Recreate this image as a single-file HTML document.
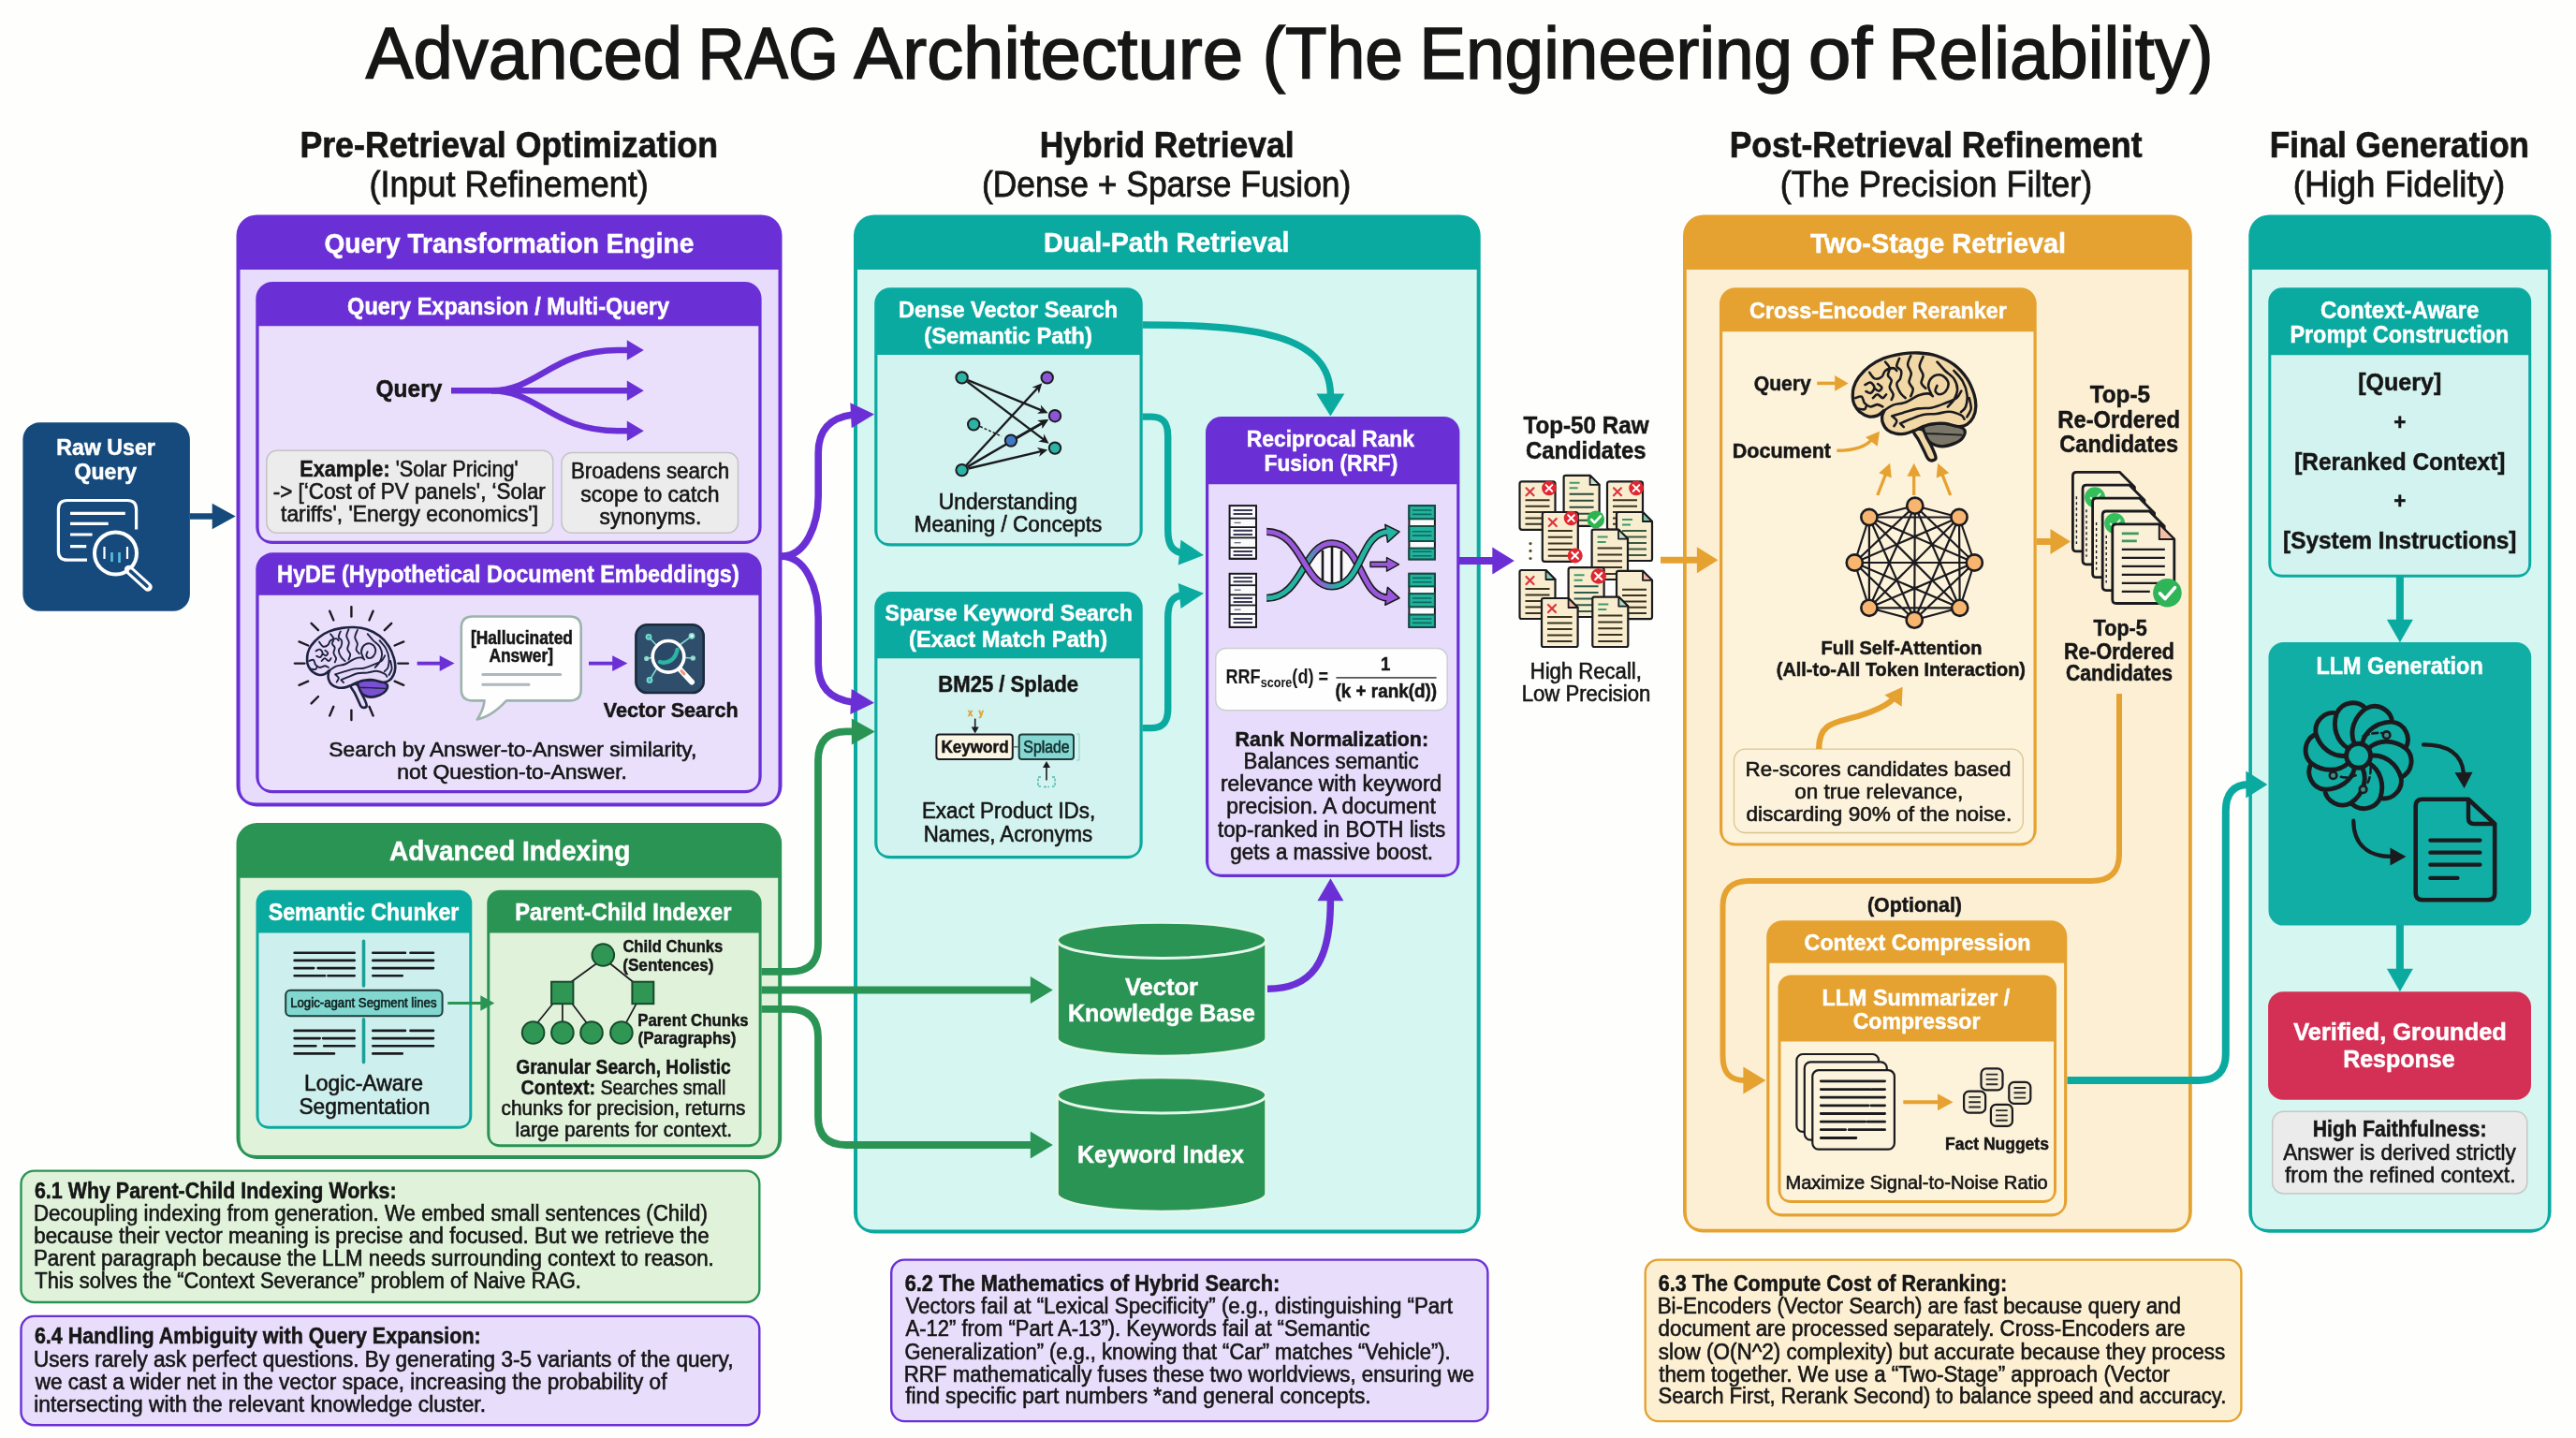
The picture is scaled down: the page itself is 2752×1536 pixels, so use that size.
<!DOCTYPE html>
<html><head><meta charset="utf-8"><title>Advanced RAG Architecture</title>
<style>
html,body{margin:0;padding:0;background:#fefefd;}
svg{display:block;will-change:transform;font-family:"Liberation Sans",sans-serif;}
</style></head><body>
<svg width="2752" height="1536" viewBox="0 0 2752 1536">
<rect width="2752" height="1536" fill="#fefefd"/>
<rect x="24.4" y="451.3" width="178.5" height="201.49999999999994" rx="18" fill="#164a7c"/>
<rect x="252.5" y="229.4" width="583.0" height="632.1" rx="22" fill="#6a30d6"/>
<path d="M256.5 288.1 H831.5 V839.5 Q831.5 857.5 813.5 857.5 H274.5 Q256.5 857.5 256.5 839.5 Z" fill="#e7dcfb"/>
<rect x="273.3" y="301" width="540.3" height="280" rx="18" fill="#6a30d6"/>
<path d="M276.6 348.3 H810.3000000000001 V563.0 Q810.3000000000001 577.7 795.6 577.7 H291.3 Q276.6 577.7 276.6 563.0 Z" fill="#eae0fc"/>
<rect x="284.8" y="481.3" width="305.90000000000003" height="87.99999999999994" rx="11" fill="#ececec" stroke="#c4c4c4" stroke-width="1.5"/>
<rect x="600" y="483.5" width="188.5" height="85.79999999999995" rx="11" fill="#ececec" stroke="#c4c4c4" stroke-width="1.5"/>
<rect x="273.3" y="590.3" width="540.4000000000001" height="257.0" rx="18" fill="#6a30d6"/>
<path d="M276.6 635.7 H810.4000000000001 V829.3 Q810.4000000000001 844.0 795.7 844.0 H291.3 Q276.6 844.0 276.6 829.3 Z" fill="#eae0fc"/>
<rect x="252.5" y="879" width="582.7" height="359" rx="22" fill="#2a9454"/>
<path d="M256.5 937.8 H831.2 V1216 Q831.2 1234 813.2 1234 H274.5 Q256.5 1234 256.5 1216 Z" fill="#e1f2db"/>
<rect x="273.5" y="950.7" width="230.8" height="255.0999999999999" rx="14" fill="#0aaaa0"/>
<path d="M276.5 996.6 H501.3 V1191.8 Q501.3 1202.8 490.3 1202.8 H287.5 Q276.5 1202.8 276.5 1191.8 Z" fill="#cdf0ee"/>
<rect x="520.3" y="950.7" width="293.30000000000007" height="274.5999999999999" rx="14" fill="#2a9454"/>
<path d="M523.3 996.6 H810.6 V1211.3 Q810.6 1222.3 799.6 1222.3 H534.3 Q523.3 1222.3 523.3 1211.3 Z" fill="#e1f2db"/>
<rect x="912" y="229.4" width="669.7" height="1088.0" rx="22" fill="#0aaaa0"/>
<path d="M916 288.1 H1577.7 V1295.4 Q1577.7 1313.4 1559.7 1313.4 H934 Q916 1313.4 916 1295.4 Z" fill="#d6f6f1"/>
<rect x="934.2" y="307.3" width="286.5" height="276.2" rx="17" fill="#0aaaa0"/>
<path d="M937.4000000000001 379 H1217.5 V566.5 Q1217.5 580.3 1203.7 580.3 H951.2 Q937.4000000000001 580.3 937.4000000000001 566.5 Z" fill="#d2f3ef"/>
<rect x="934.2" y="632" width="286.5" height="285.29999999999995" rx="17" fill="#0aaaa0"/>
<path d="M937.4000000000001 703.2 H1217.5 V900.3 Q1217.5 914.0999999999999 1203.7 914.0999999999999 H951.2 Q937.4000000000001 914.0999999999999 937.4000000000001 900.3 Z" fill="#d2f3ef"/>
<rect x="1288" y="445" width="271.4000000000001" height="491.9" rx="17" fill="#6a30d6"/>
<path d="M1291.2 517.3 H1556.2 V919.9 Q1556.2 933.6999999999999 1542.4 933.6999999999999 H1305.0 Q1291.2 933.6999999999999 1291.2 919.9 Z" fill="#e7dcfb"/>
<rect x="1298.7" y="692.4" width="247.5" height="66.39999999999998" rx="11" fill="#fefefe" stroke="#cfcfcf" stroke-width="1.5"/>
<path d="M1427.4 723.8 H1534.6" stroke="#555" stroke-width="1.7"/>
<path d="M1129.6 1004.4 A111.45000000000005 19 0 0 1 1352.5 1004.4 V1108.9 A111.45000000000005 19 0 0 1 1129.6 1108.9 Z" fill="#2a9454" stroke="#e3f7ec" stroke-width="2.5"/>
<path d="M1129.6 1004.4 A111.45000000000005 19 0 0 0 1352.5 1004.4" fill="none" stroke="#e6f6ec" stroke-width="3"/>
<path d="M1129.6 1169.9 A111.45000000000005 19 0 0 1 1352.5 1169.9 V1274.9 A111.45000000000005 19 0 0 1 1129.6 1274.9 Z" fill="#2a9454" stroke="#e3f7ec" stroke-width="2.5"/>
<path d="M1129.6 1169.9 A111.45000000000005 19 0 0 0 1352.5 1169.9" fill="none" stroke="#e6f6ec" stroke-width="3"/>
<rect x="1798" y="229.4" width="543.8000000000002" height="1087.1999999999998" rx="22" fill="#e5a230"/>
<path d="M1801.8 287.9 H2338.0 V1294.6 Q2338.0 1312.8 2319.8 1312.8 H1820.0 Q1801.8 1312.8 1801.8 1294.6 Z" fill="#fcefd4"/>
<rect x="1837" y="307.2" width="338.6999999999998" height="596.4000000000001" rx="17" fill="#e5a230"/>
<path d="M1840.2 354.2 H2172.5 V886.6 Q2172.5 900.4 2158.7 900.4 H1854.0 Q1840.2 900.4 1840.2 886.6 Z" fill="#fdf2da"/>
<rect x="1852.5" y="800.2" width="308.8000000000002" height="89.29999999999995" rx="12" fill="#fdf3dc" stroke="#dcc48e" stroke-width="1.3"/>
<rect x="1887.2" y="983.3" width="321.10000000000014" height="316.20000000000005" rx="17" fill="#e5a230"/>
<path d="M1890.4 1028.7 H2205.1000000000004 V1282.5 Q2205.1000000000004 1296.3 2191.3 1296.3 H1904.2 Q1890.4 1296.3 1890.4 1282.5 Z" fill="#fdf2da"/>
<rect x="1899.5" y="1041.5" width="297.5" height="243.5" rx="14" fill="#e5a230"/>
<path d="M1902.5 1112.6 H2194 V1271 Q2194 1282 2183 1282 H1913.5 Q1902.5 1282 1902.5 1271 Z" fill="#fdf2da"/>
<rect x="2402.3" y="229.4" width="323.1999999999998" height="1087.3" rx="22" fill="#0aaaa0"/>
<path d="M2405.9 288.1 H2721.9 V1294.7 Q2721.9 1313.1000000000001 2703.5 1313.1000000000001 H2424.3 Q2405.9 1313.1000000000001 2405.9 1294.7 Z" fill="#d6f6f1"/>
<rect x="2423.3" y="307.3" width="280.89999999999964" height="309.49999999999994" rx="15" fill="#0aaaa0"/>
<path d="M2426.3 379.2 H2701.2 V601.8 Q2701.2 613.8 2689.2 613.8 H2438.3 Q2426.3 613.8 2426.3 601.8 Z" fill="#d2f3ef"/>
<rect x="2423.5" y="686" width="280.6999999999998" height="302.6" rx="16" fill="#10aea4"/>
<rect x="2423.1" y="1059.2" width="280.9000000000001" height="115.5" rx="16" fill="#d43056"/>
<rect x="2427.7" y="1187.2" width="272.10000000000036" height="87.70000000000005" rx="12" fill="#ebebeb" stroke="#c6c6c6" stroke-width="1.5"/>
<rect x="22.5" y="1250.6" width="788.8" height="140.4000000000001" rx="14" fill="#e0f3da" stroke="#2a9454" stroke-width="2.4"/>
<rect x="22.5" y="1405.9" width="788.8" height="116.39999999999986" rx="14" fill="#e8ddfb" stroke="#6a30d6" stroke-width="2.4"/>
<rect x="952.2" y="1345.6" width="637.2" height="172.5" rx="14" fill="#e8ddfb" stroke="#6a30d6" stroke-width="2.4"/>
<rect x="1757.7" y="1345.6" width="636.7" height="172.5" rx="14" fill="#fcefd2" stroke="#e5a230" stroke-width="2.4"/>
<path d="M203 551.5 H230" stroke="#164a7c" stroke-width="6.5"/>
<path d="M0 0 L-25 -13.75 L-25 13.75 Z" fill="#164a7c" transform="translate(251.7 551.5) rotate(0)"/>
<path d="M482 417.2 H672" fill="none" stroke="#6a30d6" stroke-width="6.5" stroke-linecap="butt" stroke-linejoin="round"/>
<path d="M0 0 L-18 -10.75 L-18 10.75 Z" fill="#6a30d6" transform="translate(687.8 417.2) rotate(0)"/>
<path d="M525 417.2 C575 417.2 590 374.1 660 374.1 H672" fill="none" stroke="#6a30d6" stroke-width="6.5" stroke-linecap="butt" stroke-linejoin="round"/>
<path d="M0 0 L-18 -10.75 L-18 10.75 Z" fill="#6a30d6" transform="translate(687.8 374.1) rotate(0)"/>
<path d="M525 417.2 C575 417.2 590 460.2 660 460.2 H672" fill="none" stroke="#6a30d6" stroke-width="6.5" stroke-linecap="butt" stroke-linejoin="round"/>
<path d="M0 0 L-18 -10.75 L-18 10.75 Z" fill="#6a30d6" transform="translate(687.8 460.2) rotate(0)"/>
<path d="M835 594.3 C861 594.3 874.2 560 874.2 530 V484 C874.2 458 888 446 911 443" fill="none" stroke="#6a30d6" stroke-width="7.6" stroke-linecap="butt" stroke-linejoin="round"/>
<path d="M0 0 L-25 -13.5 L-25 13.5 Z" fill="#6a30d6" transform="translate(934 442.4) rotate(-3)"/>
<path d="M835 594.3 C861 594.3 874.2 628 874.2 660 V709 C874.2 735 888 747 911 750" fill="none" stroke="#6a30d6" stroke-width="7.6" stroke-linecap="butt" stroke-linejoin="round"/>
<path d="M0 0 L-25 -13.5 L-25 13.5 Z" fill="#6a30d6" transform="translate(934 750.8) rotate(3)"/>
<path d="M813.5 1037.8 H844 C864 1037.8 874 1028 874 1008 V812 C874 792 884 781.4 904 781.4 H912" fill="none" stroke="#2a9454" stroke-width="7.8" stroke-linecap="butt" stroke-linejoin="round"/>
<path d="M0 0 L-25 -14.0 L-25 14.0 Z" fill="#2a9454" transform="translate(934.8 781.4) rotate(0)"/>
<path d="M813.5 1057.5 H1103" fill="none" stroke="#2a9454" stroke-width="7.8" stroke-linecap="butt" stroke-linejoin="round"/>
<path d="M0 0 L-24 -14.5 L-24 14.5 Z" fill="#2a9454" transform="translate(1124.8 1057.5) rotate(0)"/>
<path d="M813.5 1077.8 H844 C864 1077.8 874 1088 874 1108 V1193 C874 1213 884 1223 904 1223 H1103" fill="none" stroke="#2a9454" stroke-width="7.8" stroke-linecap="butt" stroke-linejoin="round"/>
<path d="M0 0 L-24 -14.5 L-24 14.5 Z" fill="#2a9454" transform="translate(1124.8 1223) rotate(0)"/>
<path d="M478.3 1071.5 H515" fill="none" stroke="#2a9454" stroke-width="2.8" stroke-linecap="butt" stroke-linejoin="round"/>
<path d="M0 0 L-15 -8.25 L-15 8.25 Z" fill="#2a9454" transform="translate(528.3 1071.5) rotate(0)"/>
<path d="M1220.5 347 C1335 347 1421.4 356 1421.4 422" fill="none" stroke="#0aaaa0" stroke-width="7.4" stroke-linecap="butt" stroke-linejoin="round"/>
<path d="M0 0 L-24 -15.0 L-24 15.0 Z" fill="#0aaaa0" transform="translate(1421.4 444.5) rotate(90)"/>
<path d="M1220.5 445.1 H1230 C1243 445.1 1247.7 452 1247.7 466 V566 C1247.7 582 1252 589 1264 591" fill="none" stroke="#0aaaa0" stroke-width="7.4" stroke-linecap="butt" stroke-linejoin="round"/>
<path d="M0 0 L-26 -13.5 L-26 13.5 Z" fill="#0aaaa0" transform="translate(1286 592.9) rotate(6)"/>
<path d="M1220.5 777.6 H1230 C1243 777.6 1247.7 771 1247.7 757 V660 C1247.7 644 1252 637 1264 635.5" fill="none" stroke="#0aaaa0" stroke-width="7.4" stroke-linecap="butt" stroke-linejoin="round"/>
<path d="M0 0 L-26 -13.5 L-26 13.5 Z" fill="#0aaaa0" transform="translate(1286 633.8) rotate(-6)"/>
<path d="M1354 1056.3 C1400 1056.3 1421.4 1030 1421.4 962" fill="none" stroke="#6a30d6" stroke-width="7.5" stroke-linecap="butt" stroke-linejoin="round"/>
<path d="M0 0 L-24 -14.0 L-24 14.0 Z" fill="#6a30d6" transform="translate(1421.4 938.3) rotate(-90)"/>
<path d="M1559 599 H1596" fill="none" stroke="#6a30d6" stroke-width="8" stroke-linecap="butt" stroke-linejoin="round"/>
<path d="M0 0 L-23.5 -14.5 L-23.5 14.5 Z" fill="#6a30d6" transform="translate(1617.8 599) rotate(0)"/>
<path d="M1774 598.3 H1814" fill="none" stroke="#e5a230" stroke-width="7" stroke-linecap="butt" stroke-linejoin="round"/>
<path d="M0 0 L-22.5 -14.0 L-22.5 14.0 Z" fill="#e5a230" transform="translate(1835.4 598.3) rotate(0)"/>
<path d="M2175.5 578.5 H2192" fill="none" stroke="#e5a230" stroke-width="7" stroke-linecap="butt" stroke-linejoin="round"/>
<path d="M0 0 L-21.5 -13.5 L-21.5 13.5 Z" fill="#e5a230" transform="translate(2212 578.5) rotate(0)"/>
<path d="M2264 741 V912 C2264 932 2254 941 2234 941 H1868 C1850 941 1840.5 950 1840.5 968 V1128 C1840.5 1146 1848 1153.9 1864 1153.9" fill="none" stroke="#e5a230" stroke-width="6" stroke-linecap="butt" stroke-linejoin="round"/>
<path d="M0 0 L-24 -14.5 L-24 14.5 Z" fill="#e5a230" transform="translate(1886.4 1153.9) rotate(0)"/>
<path d="M1943.2 800 C1943.2 772 1960 772 1985 765 C2008 758 2018 752 2024 745" fill="none" stroke="#e5a230" stroke-width="6.3" stroke-linecap="butt" stroke-linejoin="round"/>
<path d="M0 0 L-18 -11.0 L-18 11.0 Z" fill="#e5a230" transform="translate(2032.6 733.8) rotate(-56)"/>
<path d="M1941.2 409.4 H1962" fill="none" stroke="#e5a230" stroke-width="3.5" stroke-linecap="butt" stroke-linejoin="round"/>
<path d="M0 0 L-14.4 -8.35 L-14.4 8.35 Z" fill="#e5a230" transform="translate(1974.6 409.4) rotate(0)"/>
<path d="M1962.4 481.3 C1984 481.3 1995 476 2001 468" fill="none" stroke="#e5a230" stroke-width="3.5" stroke-linecap="butt" stroke-linejoin="round"/>
<path d="M0 0 L-14 -8.0 L-14 8.0 Z" fill="#e5a230" transform="translate(2008 460.8) rotate(-52)"/>
<path d="M2005.8 529 L2015.1 505.1" fill="none" stroke="#e5a230" stroke-width="3.3" stroke-linecap="butt" stroke-linejoin="round"/>
<path d="M0 0 L-14 -7.25 L-14 7.25 Z" fill="#e5a230" transform="translate(2019.1 494.8) rotate(-68.74949449286683)"/>
<path d="M2044.7 529 L2044.7 505.1" fill="none" stroke="#e5a230" stroke-width="3.3" stroke-linecap="butt" stroke-linejoin="round"/>
<path d="M0 0 L-14 -7.25 L-14 7.25 Z" fill="#e5a230" transform="translate(2044.7 494.8) rotate(-90.0)"/>
<path d="M2083.7 529 L2074.3 505.1" fill="none" stroke="#e5a230" stroke-width="3.3" stroke-linecap="butt" stroke-linejoin="round"/>
<path d="M0 0 L-14 -7.25 L-14 7.25 Z" fill="#e5a230" transform="translate(2070.3 494.8) rotate(-111.39588495708524)"/>
<path d="M2033.3 1177.2 H2072" fill="none" stroke="#e5a230" stroke-width="4" stroke-linecap="butt" stroke-linejoin="round"/>
<path d="M0 0 L-16.5 -9.0 L-16.5 9.0 Z" fill="#e5a230" transform="translate(2086.5 1177.2) rotate(0)"/>
<path d="M2208.5 1153.9 H2350 C2368 1153.9 2377.8 1144 2377.8 1126 V866 C2377.8 848 2386 838 2402 838" fill="none" stroke="#0aaaa0" stroke-width="8" stroke-linecap="butt" stroke-linejoin="round"/>
<path d="M0 0 L-23 -14.5 L-23 14.5 Z" fill="#0aaaa0" transform="translate(2422.4 838) rotate(0)"/>
<path d="M2563.9 616 V663" fill="none" stroke="#0aaaa0" stroke-width="8" stroke-linecap="butt" stroke-linejoin="round"/>
<path d="M0 0 L-24.5 -14.0 L-24.5 14.0 Z" fill="#0aaaa0" transform="translate(2563.9 686.2) rotate(90)"/>
<path d="M2563.9 988 V1035" fill="none" stroke="#0aaaa0" stroke-width="8" stroke-linecap="butt" stroke-linejoin="round"/>
<path d="M0 0 L-24.5 -14.0 L-24.5 14.0 Z" fill="#0aaaa0" transform="translate(2563.9 1059.2) rotate(90)"/>
<path d="M445.6 708.6 H471" fill="none" stroke="#6a30d6" stroke-width="3.8" stroke-linecap="butt" stroke-linejoin="round"/>
<path d="M0 0 L-15.8 -8.4 L-15.8 8.4 Z" fill="#6a30d6" transform="translate(485.5 708.6) rotate(0)"/>
<path d="M629 708.6 H656" fill="none" stroke="#6a30d6" stroke-width="3.8" stroke-linecap="butt" stroke-linejoin="round"/>
<path d="M0 0 L-16.2 -8.4 L-16.2 8.4 Z" fill="#6a30d6" transform="translate(670.4 708.6) rotate(0)"/>
<g fill="none" stroke="#fff" stroke-width="3.2" stroke-linecap="butt"><path d="M145.6 565.6 V544 Q145.6 534.5 136 534.5 H72 Q62.4 534.5 62.4 544 V589 Q62.4 598.2 72 598.2 H93"/><path d="M75 548.4 H133.8 M75 559.3 H115.7 M75 571 H98.6 M75 583.7 H92.2"/></g>
<circle cx="123.5" cy="590.9" r="22.5" fill="#164a7c" stroke="#fff" stroke-width="4"/>
<path d="M137.6 608.5 L158 627" stroke="#fff" stroke-width="9.5" stroke-linecap="round"/>
<path d="M139.5 610.2 L157 626" stroke="#164a7c" stroke-width="3.6" stroke-linecap="round"/>
<path d="M111.5 584 V597 M136 584 V597" stroke="#fff" stroke-width="2.2"/>
<path d="M119.5 590 V600 M127.5 590 V601" stroke="#5bc0de" stroke-width="2.6"/>
<path d="M375.4 658.6 L375.4 648.1" stroke="#1b1b1f" stroke-width="2.4" stroke-linecap="round"/>
<path d="M394.5 662.4 L398.6 652.7" stroke="#1b1b1f" stroke-width="2.4" stroke-linecap="round"/>
<path d="M410.8 673.2 L418.2 665.8" stroke="#1b1b1f" stroke-width="2.4" stroke-linecap="round"/>
<path d="M421.6 689.5 L431.3 685.4" stroke="#1b1b1f" stroke-width="2.4" stroke-linecap="round"/>
<path d="M425.4 708.6 L435.9 708.6" stroke="#1b1b1f" stroke-width="2.4" stroke-linecap="round"/>
<path d="M421.6 727.7 L431.3 731.8" stroke="#1b1b1f" stroke-width="2.4" stroke-linecap="round"/>
<path d="M394.5 754.8 L398.6 764.5" stroke="#1b1b1f" stroke-width="2.4" stroke-linecap="round"/>
<path d="M375.4 758.6 L375.4 769.1" stroke="#1b1b1f" stroke-width="2.4" stroke-linecap="round"/>
<path d="M356.3 754.8 L352.2 764.5" stroke="#1b1b1f" stroke-width="2.4" stroke-linecap="round"/>
<path d="M340.0 744.0 L332.6 751.4" stroke="#1b1b1f" stroke-width="2.4" stroke-linecap="round"/>
<path d="M329.2 727.7 L319.5 731.8" stroke="#1b1b1f" stroke-width="2.4" stroke-linecap="round"/>
<path d="M325.4 708.6 L314.9 708.6" stroke="#1b1b1f" stroke-width="2.4" stroke-linecap="round"/>
<path d="M329.2 689.5 L319.5 685.4" stroke="#1b1b1f" stroke-width="2.4" stroke-linecap="round"/>
<path d="M340.0 673.2 L332.6 665.8" stroke="#1b1b1f" stroke-width="2.4" stroke-linecap="round"/>
<path d="M356.3 662.4 L352.2 652.7" stroke="#1b1b1f" stroke-width="2.4" stroke-linecap="round"/>
<g stroke="#1d2340" stroke-linejoin="round" stroke-linecap="round">
<path d="M382.3 728.8 C383.0 727.1 385.9 727.1 388.6 726.7 C391.4 726.3 395.4 726.0 398.7 726.3 C402.1 726.6 406.3 727.5 408.8 728.4 C411.3 729.4 413.4 730.3 413.9 731.9 C414.4 733.6 413.2 736.5 411.8 738.2 C410.4 740.0 408.0 741.4 405.5 742.5 C402.9 743.5 399.5 744.6 396.7 744.6 C393.9 744.6 390.8 743.7 388.6 742.5 C386.5 741.2 385.0 739.1 383.9 736.8 C382.9 734.6 381.5 730.5 382.3 728.8 Z" fill="#7a4fd1" stroke-width="2.6"/>
<path d="M383.6 734.4 C385.6 734.4 390.7 734.6 395.4 734.7 C400.0 734.9 408.8 735.3 411.5 735.4" fill="none" stroke-width="1.33"/>
<path d="M374.5 732.3 C374.1 733.7 377.2 736.9 378.6 739.7 C380.0 742.4 381.8 746.3 382.9 748.8 C384.1 751.2 384.7 753.2 385.6 754.4 C386.6 755.6 387.6 756.1 388.6 755.9 C389.7 755.8 391.7 755.5 391.7 753.7 C391.7 751.9 389.8 747.8 388.6 745.3 C387.5 742.7 386.2 740.6 384.9 738.2 C383.7 735.9 383.0 732.2 381.3 731.2 C379.5 730.2 375.0 730.9 374.5 732.3 Z" fill="#e6d9fa" stroke-width="2.6"/>
<path d="M328.1 706.0 C328.0 703.6 328.0 700.3 328.8 697.5 C329.6 694.7 330.8 691.9 332.8 689.1 C334.9 686.3 337.8 683.1 340.9 680.7 C344.0 678.2 347.6 676.0 351.7 674.4 C355.7 672.7 360.6 671.6 365.1 670.9 C369.6 670.1 374.1 669.8 378.6 670.0 C383.0 670.2 387.5 670.7 392.0 672.3 C396.5 673.8 401.5 676.2 405.5 679.3 C409.4 682.3 413.0 686.5 415.5 690.5 C418.1 694.5 419.8 699.4 420.9 703.1 C422.0 706.9 422.4 709.9 422.3 713.0 C422.2 716.0 421.4 719.1 420.2 721.4 C419.1 723.7 417.4 725.8 415.5 727.0 C413.6 728.2 411.6 728.9 408.8 728.8 C406.0 728.7 402.1 726.7 398.7 726.3 C395.4 726.0 391.4 726.3 388.6 726.7 C385.8 727.1 384.2 727.9 381.9 728.8 C379.7 729.6 377.4 731.0 375.2 731.9 C373.0 732.9 370.8 734.0 368.5 734.4 C366.1 734.8 363.4 734.9 361.1 734.4 C358.7 733.9 356.0 732.7 354.4 731.2 C352.7 729.8 351.6 727.5 351.0 725.6 C350.4 723.7 350.5 721.6 350.7 720.0 C350.8 718.4 352.6 716.1 352.0 716.1 C351.4 716.1 348.9 719.2 347.0 720.0 C345.0 720.8 342.5 721.2 340.2 720.7 C338.0 720.2 335.3 718.7 333.5 717.2 C331.7 715.7 330.4 713.4 329.5 711.6 C328.6 709.7 328.2 708.3 328.1 706.0 Z" fill="#e6d9fa" stroke-width="2.6"/>
<path d="M352.0 716.1 C353.2 715.4 356.3 712.7 359.1 711.6 C361.8 710.5 365.2 710.8 368.5 709.5 C371.7 708.2 375.6 705.0 378.6 703.8 C381.5 702.7 384.2 702.3 386.0 702.4 C387.8 702.6 388.8 704.2 389.3 704.6 M358.1 720.3 C358.7 721.0 361.5 722.9 361.8 724.2 C362.0 725.6 360.1 727.7 359.7 728.4 M358.1 720.3 C359.8 719.8 365.1 718.2 368.5 717.2 C371.9 716.2 375.2 715.0 378.6 714.4 C381.9 713.8 385.3 714.4 388.6 713.7 C392.0 713.0 395.6 711.5 398.7 710.2 C401.9 708.9 405.4 707.6 407.5 706.0 C409.5 704.3 410.6 701.3 411.2 700.3 M364.4 726.3 C365.8 725.7 369.6 724.0 372.5 722.8 C375.4 721.6 378.7 720.0 381.9 719.3 C385.2 718.6 388.6 719.0 392.0 718.6 C395.4 718.2 399.0 716.7 402.1 716.8 C405.2 717.0 408.9 718.7 410.8 719.6 C412.7 720.6 413.1 722.3 413.5 722.8 M364.4 726.3 L367.1 729.1 M330.2 706.0 C330.9 705.8 333.7 704.2 334.9 704.9 C336.0 705.6 336.1 708.8 337.2 710.2 C338.3 711.5 340.0 712.8 341.6 713.0 C343.2 713.2 345.4 711.2 347.0 711.2 C348.5 711.2 350.3 712.7 351.0 713.0 M331.5 714.4 C332.4 714.5 335.8 715.3 336.9 715.1 C338.0 714.8 338.0 713.3 338.2 713.0 M337.5 695.4 C338.2 695.1 340.4 693.3 341.6 693.7 C342.8 694.0 344.6 696.1 344.6 697.5 C344.7 698.9 343.0 701.6 341.9 702.1 C340.9 702.6 338.8 700.9 338.2 700.7 M347.3 694.7 C347.8 695.2 350.2 696.6 350.3 697.5 C350.5 698.5 349.1 700.1 348.3 700.3 C347.5 700.6 346.1 699.2 345.6 698.9 M340.9 685.6 C341.6 686.4 343.4 689.9 344.9 690.5 C346.5 691.1 349.0 690.2 350.3 689.1 C351.7 688.1 351.6 685.4 353.0 684.2 C354.5 683.0 357.6 682.1 359.1 682.1 C360.5 682.1 361.3 683.8 361.8 684.2 M353.0 677.2 C353.6 678.0 356.0 680.3 356.4 682.1 C356.7 683.8 354.8 686.1 355.0 687.7 C355.3 689.3 357.5 690.3 357.7 691.9 C357.9 693.6 356.2 695.7 356.4 697.5 C356.6 699.4 358.8 701.5 359.1 703.1 C359.3 704.8 357.9 706.7 357.7 707.4 M363.8 674.4 C363.4 675.4 361.5 679.0 361.8 680.7 C362.0 682.3 364.7 682.6 365.1 684.2 C365.6 685.8 365.0 688.8 364.4 690.5 C363.9 692.3 361.8 692.9 361.8 694.7 C361.8 696.6 363.3 699.9 364.4 701.7 C365.6 703.6 367.8 705.3 368.5 706.0 M372.5 672.3 C372.1 673.4 370.1 676.9 370.2 679.3 C370.2 681.6 372.7 684.0 372.8 686.3 C373.0 688.6 370.9 691.2 371.2 693.3 C371.4 695.4 374.0 697.1 374.2 698.9 C374.4 700.8 372.8 703.6 372.5 704.6 M381.9 673.0 C381.5 674.2 379.2 678.2 379.2 680.7 C379.2 683.1 381.7 685.5 381.9 687.7 C382.1 689.9 380.2 692.3 380.6 694.0 C380.9 695.8 383.4 697.5 383.9 698.2 M388.6 703.8 C388.2 702.6 385.8 698.6 386.0 696.1 C386.1 693.7 387.6 690.5 389.3 689.1 C391.0 687.7 394.1 687.0 396.0 687.7 C398.0 688.4 400.5 691.2 401.1 693.3 C401.6 695.4 400.5 698.7 399.4 700.3 C398.3 702.0 395.7 703.1 394.4 703.1 C393.0 703.1 391.6 701.5 391.3 700.3 C391.1 699.2 392.5 696.8 392.7 696.1 M392.7 677.2 C393.7 678.3 396.6 682.0 398.7 684.2 C400.9 686.4 403.9 688.1 405.5 690.5 C407.0 693.0 408.1 696.1 408.1 698.9 C408.1 701.7 406.7 705.0 405.5 707.4 C404.2 709.7 401.5 712.0 400.7 713.0 M405.5 684.2 C406.6 685.6 410.5 689.5 412.2 692.6 C413.9 695.8 415.1 699.8 415.5 703.1 C415.9 706.5 415.3 710.6 414.5 713.0 C413.7 715.3 411.5 716.5 410.8 717.2 M417.2 706.0 C417.4 707.4 418.8 711.9 418.6 714.4 C418.3 716.9 416.0 719.9 415.5 721.0 M343.6 706.0 C344.2 705.5 345.7 703.1 347.0 703.1 C348.2 703.1 349.9 706.0 351.0 706.0 C352.1 706.0 353.2 703.6 353.7 703.1" fill="none" stroke-width="1.90"/>
</g>
<path d="M505 658.5 H608.5 Q620.7 658.5 620.7 670.5 V736.5 Q620.7 748.4 608.5 748.4 H541 C534 756 522 766 509.8 768.4 C514 762 517 755 517.5 748.4 H505 Q492.8 748.4 492.8 736.5 V670.5 Q492.8 658.5 505 658.5 Z" fill="#fdfefd" stroke="#9db4ad" stroke-width="2.6" stroke-linejoin="round"/>
<path d="M515.8 720.6 H598.7 M515.8 731.3 H565" stroke="#aeb6bf" stroke-width="3" stroke-linecap="round"/>
<rect x="679.4" y="667.3" width="72.3" height="72.7" rx="12" fill="#2f4e6b" stroke="#1b2a3c" stroke-width="2.6"/>
<g stroke="#7fd9cf" stroke-width="1.6" fill="#35b8a8"><path d="M702 690 L693 680.3 M726 689 L739 679.3 M702 713.5 L694 726.4 M731.5 702.5 L740 703 M696.5 702.5 L691 703.4" fill="none"/><circle cx="693" cy="680.3" r="2.6"/><circle cx="739" cy="679.3" r="2.6" fill="#e8f5f2"/><circle cx="694" cy="726.4" r="2.6"/><circle cx="740.3" cy="703" r="2" fill="#d9d0c0"/><circle cx="690.7" cy="703.4" r="1.8" fill="#d9d0c0"/></g>
<path d="M726 714.5 L739 728.5" stroke="#fff" stroke-width="6" stroke-linecap="round"/>
<path d="M728 716.7 L731 720" stroke="#e9967a" stroke-width="3" stroke-linecap="round"/>
<circle cx="714" cy="701.3" r="16.8" fill="#2a4868" stroke="#fff" stroke-width="3.6"/>
<path d="M705 707 C713 710 722 704 723.5 694" fill="none" stroke="#2cb5a3" stroke-width="4.5" stroke-linecap="round"/>
<path d="M388.5 1005.2 V1053 M388.5 1088.9 V1134.6" stroke="#1ba198" stroke-width="3.6" stroke-linecap="round"/>
<path d="M314.6 1017.8 H378.7 M398.3 1017.8 H433.0 M438.5 1017.8 H463.0 M314.6 1025.9 H378.7 M398.3 1025.9 H463.0 M314.6 1034.1 H335.2 M339.6 1034.1 H378.7 M398.3 1034.1 H463.0 M314.6 1042.2 H347.2 M350.4 1042.2 H378.7 M398.3 1042.2 H429.8 M314.6 1100.9 H378.7 M398.3 1100.9 H433.0 M438.5 1100.9 H463.0 M314.6 1109.1 H341.7 M345.0 1109.1 H378.7 M398.3 1109.1 H463.0 M314.6 1117.2 H337.4 M346.1 1117.2 H378.7 M398.3 1117.2 H463.0 M314.6 1125.4 H357.0 M398.3 1125.4 H429.8 " stroke="#1b1b1f" stroke-width="2.6" stroke-linecap="round"/>
<rect x="305.2" y="1057.8" width="167.4" height="27.4" rx="5" fill="#82d8d1" stroke="#1e3d3b" stroke-width="2"/>
<path d="M637.5 1029 L610 1049 M651.5 1029 L676.5 1049 M590.5 1072.2 L574.3 1092.3 M600.9 1072.2 V1091 M611.3 1072.2 L626.5 1092.3 M679.8 1072.2 L668.9 1092.3" stroke="#1b1b1f" stroke-width="1.7" fill="none"/>
<circle cx="644.3" cy="1020" r="11.8" fill="#2f9653" stroke="#154a2a" stroke-width="2"/>
<rect x="589.1" y="1048.7" width="23.3" height="23.5" fill="#2f9653" stroke="#154a2a" stroke-width="2"/>
<rect x="675.4" y="1048.7" width="22.9" height="23.5" fill="#2f9653" stroke="#154a2a" stroke-width="2"/>
<circle cx="569.6" cy="1103" r="11.8" fill="#2f9653" stroke="#154a2a" stroke-width="2"/>
<circle cx="600.9" cy="1103" r="11.8" fill="#2f9653" stroke="#154a2a" stroke-width="2"/>
<circle cx="632" cy="1103" r="11.8" fill="#2f9653" stroke="#154a2a" stroke-width="2"/>
<circle cx="663.9" cy="1103" r="11.8" fill="#2f9653" stroke="#154a2a" stroke-width="2"/>
<path d="M1034.1 406.1 L1115.9 439.6" stroke="#1b1b1f" stroke-width="2.4"/>
<path d="M0 0 L-10.5 -5 L-7.5 0 L-10.5 5 Z" fill="#1b1b1f" transform="translate(1119.6 441.2) rotate(22.3)"/>
<path d="M1033.2 407.6 L1117.4 471.4" stroke="#1b1b1f" stroke-width="2.4"/>
<path d="M0 0 L-10.5 -5 L-7.5 0 L-10.5 5 Z" fill="#1b1b1f" transform="translate(1120.6 473.8) rotate(37.1)"/>
<path d="M1032.3 497.0 L1110.6 412.2" stroke="#1b1b1f" stroke-width="2.4"/>
<path d="M0 0 L-10.5 -5 L-7.5 0 L-10.5 5 Z" fill="#1b1b1f" transform="translate(1113.3 409.3) rotate(-47.3)"/>
<path d="M1033.6 498.6 L1116.6 450.2" stroke="#1b1b1f" stroke-width="2.4"/>
<path d="M0 0 L-10.5 -5 L-7.5 0 L-10.5 5 Z" fill="#1b1b1f" transform="translate(1120.1 448.2) rotate(-30.2)"/>
<path d="M1034.4 500.5 L1115.3 481.4" stroke="#1b1b1f" stroke-width="2.4"/>
<path d="M0 0 L-10.5 -5 L-7.5 0 L-10.5 5 Z" fill="#1b1b1f" transform="translate(1119.2 480.4) rotate(-13.3)"/>
<path d="M1086.1 467.2 L1116.5 450.1" stroke="#1b1b1f" stroke-width="2.4"/>
<path d="M0 0 L-10.5 -5 L-7.5 0 L-10.5 5 Z" fill="#1b1b1f" transform="translate(1120.0 448.1) rotate(-29.3)"/>
<path d="M1047 455.5 L1070 466" stroke="#1b1b1f" stroke-width="1.4" stroke-dasharray="3 2"/>
<circle cx="1027.6" cy="403.4" r="6.2" fill="#2bb3a3" stroke="#1b1b1f" stroke-width="2"/>
<circle cx="1118.7" cy="403.4" r="6.2" fill="#8b55d6" stroke="#1b1b1f" stroke-width="2"/>
<circle cx="1127" cy="444.2" r="6.2" fill="#8b55d6" stroke="#1b1b1f" stroke-width="2"/>
<circle cx="1040.2" cy="453.3" r="6.2" fill="#2bb3a3" stroke="#1b1b1f" stroke-width="2"/>
<circle cx="1080" cy="470.6" r="6.2" fill="#3f78c4" stroke="#1b1b1f" stroke-width="2"/>
<circle cx="1127" cy="478.6" r="6.2" fill="#2bb3a3" stroke="#1b1b1f" stroke-width="2"/>
<circle cx="1027.6" cy="502.1" r="6.2" fill="#2bb3a3" stroke="#1b1b1f" stroke-width="2"/>
<rect x="1000.4" y="784.6" width="81.4" height="26.4" rx="3" fill="#fbf5e4" stroke="#1b1b1f" stroke-width="2"/>
<rect x="1088.7" y="784.6" width="58.3" height="26.4" rx="3" fill="#86d6d2" stroke="#1e3d3b" stroke-width="2"/>
<path d="M1081.8 797.8 H1088.7" stroke="#555" stroke-width="1.3"/>
<path d="M1041.7 767.6 V778" stroke="#1b1b1f" stroke-width="1.6"/>
<path d="M0 0 L-7 -4.0 L-7 4.0 Z" fill="#1b1b1f" transform="translate(1041.7 783.5) rotate(90)"/>
<path d="M1118 833.4 V820" stroke="#1b1b1f" stroke-width="1.6"/>
<path d="M0 0 L-7 -4.0 L-7 4.0 Z" fill="#1b1b1f" transform="translate(1118 813) rotate(-90)"/>
<path d="M1112 830 H1109 V840 H1112 M1124 830 H1127 V840 H1124 M1115 840.5 H1121" stroke="#4fb7ad" stroke-width="1.4" fill="none" stroke-dasharray="3 1.5"/>
<path d="M1150 784 H1153 V812 H1150" stroke="#8ccfc8" stroke-width="1" fill="none"/>
<rect x="1313.6" y="540.1" width="28.4" height="56.7" fill="#fbfafd" stroke="#1b1b1f" stroke-width="2"/>
<path d="M1313.6 553.7 H1342.0" stroke="#1b1b1f" stroke-width="1.8"/>
<path d="M1317.6 544.9 H1338.0 M1317.6 549.1 H1338.0" stroke="#3a3a55" stroke-width="2"/>
<path d="M1313.6 563.1 H1342.0" stroke="#1b1b1f" stroke-width="1.8"/>
<path d="M1318.6 558.4 H1325.6" stroke="#6a6a7a" stroke-width="1.3"/>
<path d="M1313.6 574.4 H1342.0" stroke="#1b1b1f" stroke-width="1.8"/>
<path d="M1317.6 566.8 H1338.0 M1317.6 571.0 H1338.0" stroke="#3a3a55" stroke-width="2"/>
<path d="M1313.6 585.0 H1342.0" stroke="#1b1b1f" stroke-width="1.8"/>
<path d="M1318.6 579.7 H1325.6" stroke="#6a6a7a" stroke-width="1.3"/>
<path d="M1313.6 596.8 H1342.0" stroke="#1b1b1f" stroke-width="1.8"/>
<path d="M1317.6 588.9 H1338.0 M1317.6 593.1 H1338.0" stroke="#3a3a55" stroke-width="2"/>
<rect x="1313.6" y="612.8" width="28.4" height="57.1" fill="#fbfafd" stroke="#1b1b1f" stroke-width="2"/>
<path d="M1313.6 625.2 H1342.0" stroke="#1b1b1f" stroke-width="1.8"/>
<path d="M1317.6 617.0 H1338.0 M1317.6 621.2 H1338.0" stroke="#3a3a55" stroke-width="2"/>
<path d="M1313.6 635.3 H1342.0" stroke="#1b1b1f" stroke-width="1.8"/>
<path d="M1318.6 630.2 H1325.6" stroke="#6a6a7a" stroke-width="1.3"/>
<path d="M1313.6 646.5 H1342.0" stroke="#1b1b1f" stroke-width="1.8"/>
<path d="M1317.6 638.9 H1338.0 M1317.6 643.1 H1338.0" stroke="#3a3a55" stroke-width="2"/>
<path d="M1313.6 655.9 H1342.0" stroke="#1b1b1f" stroke-width="1.8"/>
<path d="M1318.6 651.2 H1325.6" stroke="#6a6a7a" stroke-width="1.3"/>
<path d="M1313.6 669.9 H1342.0" stroke="#1b1b1f" stroke-width="1.8"/>
<path d="M1317.6 660.9 H1338.0 M1317.6 665.1 H1338.0" stroke="#3a3a55" stroke-width="2"/>
<rect x="1505.4" y="540.1" width="27.5" height="57.3" fill="#fbfafd" stroke="#1b1b1f" stroke-width="2"/>
<rect x="1505.4" y="540.1" width="27.5" height="14.2" fill="#22b39f" stroke="#0f4f45" stroke-width="2"/>
<path d="M1508.9 545.0 H1529.4 M1508.9 549.4 H1529.4" stroke="#0f6b5c" stroke-width="1.6"/>
<rect x="1505.4" y="562.0" width="27.5" height="16.0" fill="#22b39f" stroke="#0f4f45" stroke-width="2"/>
<path d="M1508.9 567.7 H1529.4 M1508.9 572.1 H1529.4" stroke="#0f6b5c" stroke-width="1.6"/>
<rect x="1505.4" y="585.6" width="27.5" height="11.8" fill="#22b39f" stroke="#0f4f45" stroke-width="2"/>
<path d="M1508.9 589.3 H1529.4 M1508.9 593.7 H1529.4" stroke="#0f6b5c" stroke-width="1.6"/>
<rect x="1505.4" y="612.8" width="27.5" height="57.1" fill="#fbfafd" stroke="#1b1b1f" stroke-width="2"/>
<rect x="1505.4" y="612.8" width="27.5" height="13.6" fill="#22b39f" stroke="#0f4f45" stroke-width="2"/>
<path d="M1508.9 617.4 H1529.4 M1508.9 621.8 H1529.4" stroke="#0f6b5c" stroke-width="1.6"/>
<rect x="1505.4" y="634.1" width="27.5" height="14.2" fill="#22b39f" stroke="#0f4f45" stroke-width="2"/>
<path d="M1508.9 639.0 H1529.4 M1508.9 643.4 H1529.4" stroke="#0f6b5c" stroke-width="1.6"/>
<rect x="1505.4" y="656.5" width="27.5" height="13.4" fill="#22b39f" stroke="#0f4f45" stroke-width="2"/>
<path d="M1508.9 661.0 H1529.4 M1508.9 665.4 H1529.4" stroke="#0f6b5c" stroke-width="1.6"/>
<path d="M1399 603 C1408 586 1415 580.3 1423 580.3 C1432 580.3 1440 588 1447 603 C1440 620 1432 626.4 1423 626.4 C1414 626.4 1406 619 1399 603 Z" fill="#faf8fd"/>
<path d="M1413 588 V620 M1423 582 V625 M1433 588 V620" stroke="#1b1b1f" stroke-width="2.6"/>
<defs><linearGradient id="g1" x1="0" x2="1" y1="0" y2="0"><stop offset="0" stop-color="#9a57db"/><stop offset="0.42" stop-color="#9a57db"/><stop offset="0.58" stop-color="#25b3a3"/><stop offset="1" stop-color="#25b3a3"/></linearGradient><linearGradient id="g2" x1="0" x2="1" y1="0" y2="0"><stop offset="0" stop-color="#25b3a3"/><stop offset="0.3" stop-color="#25b3a3"/><stop offset="0.45" stop-color="#9a57db"/><stop offset="1" stop-color="#9a57db"/></linearGradient></defs>
<path d="M1353.2 638.8 C1392 638.8 1392 580.3 1423 580.3 C1456 580.3 1452 638.8 1484 638.8" fill="none" stroke="#1b1b1f" stroke-width="8.2"/>
<path d="M0 0 L-14 -9.5 L-14 9.5 Z" fill="#9a57db" stroke="#1b1b1f" stroke-width="1.6" stroke-linejoin="round" transform="translate(1495 638.8) rotate(8)"/>
<path d="M1353.2 638.8 C1392 638.8 1392 580.3 1423 580.3 C1456 580.3 1452 638.8 1484 638.8" fill="none" stroke="url(#g2)" stroke-width="5"/>
<path d="M1353.2 567.9 C1392 567.9 1392 626.4 1423 626.4 C1456 626.4 1452 567.9 1484 567.9" fill="none" stroke="#1b1b1f" stroke-width="8.2"/>
<path d="M0 0 L-14 -9.5 L-14 9.5 Z" fill="#25b3a3" stroke="#1b1b1f" stroke-width="1.6" stroke-linejoin="round" transform="translate(1495 567.9) rotate(-8)"/>
<path d="M1353.2 567.9 C1392 567.9 1392 626.4 1423 626.4 C1456 626.4 1452 567.9 1484 567.9" fill="none" stroke="url(#g1)" stroke-width="5"/>
<path d="M1464 600.2 H1481.5 V595.5 L1494.5 602.8 L1481.5 610.2 V605.5 H1464 Z" fill="#9a57db" stroke="#1b1b1f" stroke-width="1.4" stroke-linejoin="round"/>
<rect x="1623.5" y="514.3" width="38.0" height="51.5" rx="2.5" fill="#f8edcf" stroke="#1b1b1f" stroke-width="2.2"/>
<path d="M1630.5 521.3 l8 8 m0 -8 l-8 8" stroke="#d9363e" stroke-width="2.2" stroke-linecap="round"/>
<path d="M1629.5 534.3 H1655.5 M1629.5 540.7 H1655.5 M1629.5 547.0 H1655.5 M1629.5 553.4 H1655.5 M1629.5 559.8 H1655.5 " stroke="#3a3320" stroke-width="2"/>
<path d="M1672.6 507.8 H1698.6 L1708.6 517.8 V559.8 Q1708.6 561.8 1706.6 561.8 H1672.6 Q1670.6 561.8 1670.6 559.8 V509.8 Q1670.6 507.8 1672.6 507.8 Z" fill="#f8edcf" stroke="#1b1b1f" stroke-width="2.2" stroke-linejoin="round"/>
<path d="M1698.6 507.8 V517.8 H1708.6 Z" fill="#bfe3cf" stroke="#1b1b1f" stroke-width="1.8" stroke-linejoin="round"/>
<path d="M1676.6 515.8 H1687.6 M1676.6 521.3 H1685.6" stroke="#3f9a6a" stroke-width="2"/>
<path d="M1676.6 527.8 H1702.6 M1676.6 534.8 H1702.6 M1676.6 541.8 H1702.6 M1676.6 548.8 H1702.6 M1676.6 555.8 H1702.6 " stroke="#2d4a3a" stroke-width="2"/>
<rect x="1717.0" y="514.3" width="38.0" height="51.5" rx="2.5" fill="#f8edcf" stroke="#1b1b1f" stroke-width="2.2"/>
<path d="M1724.0 521.3 l8 8 m0 -8 l-8 8" stroke="#d9363e" stroke-width="2.2" stroke-linecap="round"/>
<path d="M1723.0 534.3 H1749.0 M1723.0 540.7 H1749.0 M1723.0 547.0 H1749.0 M1723.0 553.4 H1749.0 M1723.0 559.8 H1749.0 " stroke="#3a3320" stroke-width="2"/>
<circle cx="1654.9" cy="521.4" r="7.8" fill="#e0262f"/>
<path d="M1651.6 518.1 l6.6 6.6 m0 -6.6 l-6.6 6.6" stroke="#fff" stroke-width="2.0" stroke-linecap="round"/>
<circle cx="1748" cy="521.4" r="7.8" fill="#e0262f"/>
<path d="M1744.7 518.1 l6.6 6.6 m0 -6.6 l-6.6 6.6" stroke="#fff" stroke-width="2.0" stroke-linecap="round"/>
<path d="M1729.0 547.0 H1755.0 L1765.0 557.0 V597.0 Q1765.0 599.0 1763.0 599.0 H1729.0 Q1727.0 599.0 1727.0 597.0 V549.0 Q1727.0 547.0 1729.0 547.0 Z" fill="#f8edcf" stroke="#1b1b1f" stroke-width="2.2" stroke-linejoin="round"/>
<path d="M1755.0 547.0 V557.0 H1765.0 Z" fill="#7cc7b0" stroke="#1b1b1f" stroke-width="1.8" stroke-linejoin="round"/>
<path d="M1733.0 555.0 H1744.0 M1733.0 560.5 H1742.0" stroke="#3f9a6a" stroke-width="2"/>
<path d="M1733.0 567.0 H1759.0 M1733.0 573.5 H1759.0 M1733.0 580.0 H1759.0 M1733.0 586.5 H1759.0 M1733.0 593.0 H1759.0 " stroke="#3a5a40" stroke-width="2"/>
<rect x="1647.8" y="547.0" width="38.0" height="52.8" rx="2.5" fill="#f8edcf" stroke="#1b1b1f" stroke-width="2.2"/>
<path d="M1654.8 554.0 l8 8 m0 -8 l-8 8" stroke="#d9363e" stroke-width="2.2" stroke-linecap="round"/>
<path d="M1653.8 567.0 H1679.8 M1653.8 573.7 H1679.8 M1653.8 580.4 H1679.8 M1653.8 587.1 H1679.8 M1653.8 593.8 H1679.8 " stroke="#3a3320" stroke-width="2"/>
<circle cx="1678.5" cy="553.5" r="7.8" fill="#e0262f"/>
<path d="M1675.2 550.2 l6.6 6.6 m0 -6.6 l-6.6 6.6" stroke="#fff" stroke-width="2.0" stroke-linecap="round"/>
<circle cx="1704.8" cy="554.9" r="9.3" fill="#2db34f"/>
<path d="M1700.1 554.9 l3.3 3.5 l6.5 -7.0" stroke="#fff" stroke-width="2.6" fill="none" stroke-linecap="round" stroke-linejoin="round"/>
<path d="M1702.6 565.6 H1729.0 L1739.0 575.6 V617.0 Q1739.0 619.0 1737.0 619.0 H1702.6 Q1700.6 619.0 1700.6 617.0 V567.6 Q1700.6 565.6 1702.6 565.6 Z" fill="#f8edcf" stroke="#1b1b1f" stroke-width="2.2" stroke-linejoin="round"/>
<path d="M1729.0 565.6 V575.6 H1739.0 Z" fill="#bfe3cf" stroke="#1b1b1f" stroke-width="1.8" stroke-linejoin="round"/>
<path d="M1706.6 573.6 H1717.6 M1706.6 579.1 H1715.6" stroke="#3f9a6a" stroke-width="2"/>
<path d="M1706.6 585.6 H1733.0 M1706.6 592.5 H1733.0 M1706.6 599.3 H1733.0 M1706.6 606.1 H1733.0 M1706.6 613.0 H1733.0 " stroke="#3a3320" stroke-width="2"/>
<circle cx="1682.7" cy="593.4" r="8" fill="#e0262f"/>
<path d="M1679.3 590.0 l6.7 6.7 m0 -6.7 l-6.7 6.7" stroke="#fff" stroke-width="2.1" stroke-linecap="round"/>
<path d="M1625.5 609.0 H1651.5 L1661.5 619.0 V659.0 Q1661.5 661.0 1659.5 661.0 H1625.5 Q1623.5 661.0 1623.5 659.0 V611.0 Q1623.5 609.0 1625.5 609.0 Z" fill="#f8edcf" stroke="#1b1b1f" stroke-width="2.2" stroke-linejoin="round"/>
<path d="M1651.5 609.0 V619.0 H1661.5 Z" fill="#8fd0bd" stroke="#1b1b1f" stroke-width="1.8" stroke-linejoin="round"/>
<path d="M1630.5 616.0 l8 8 m0 -8 l-8 8" stroke="#d9363e" stroke-width="2.2" stroke-linecap="round"/>
<path d="M1629.5 629.0 H1655.5 M1629.5 635.5 H1655.5 M1629.5 642.0 H1655.5 M1629.5 648.5 H1655.5 M1629.5 655.0 H1655.5 " stroke="#3a3320" stroke-width="2"/>
<rect x="1675.6" y="606.2" width="38.0" height="52.8" rx="2.5" fill="#f8edcf" stroke="#1b1b1f" stroke-width="2.2"/>
<path d="M1681.6 614.2 H1692.6 M1681.6 619.7 H1690.6" stroke="#3f9a6a" stroke-width="2"/>
<path d="M1681.6 626.2 H1707.6 M1681.6 632.9 H1707.6 M1681.6 639.6 H1707.6 M1681.6 646.3 H1707.6 M1681.6 653.0 H1707.6 " stroke="#2d5a4a" stroke-width="2"/>
<path d="M1729.0 609.8 H1755.0 L1765.0 619.8 V659.1 Q1765.0 661.1 1763.0 661.1 H1729.0 Q1727.0 661.1 1727.0 659.1 V611.8 Q1727.0 609.8 1729.0 609.8 Z" fill="#f8edcf" stroke="#1b1b1f" stroke-width="2.2" stroke-linejoin="round"/>
<path d="M1755.0 609.8 V619.8 H1765.0 Z" fill="#f2b8a8" stroke="#1b1b1f" stroke-width="1.8" stroke-linejoin="round"/>
<path d="M1733.0 629.8 H1759.0 M1733.0 636.1 H1759.0 M1733.0 642.4 H1759.0 M1733.0 648.8 H1759.0 M1733.0 655.1 H1759.0 " stroke="#3a3320" stroke-width="2"/>
<circle cx="1707.7" cy="615.5" r="8.3" fill="#e0262f"/>
<path d="M1704.2 612.0 l7.0 7.0 m0 -7.0 l-7.0 7.0" stroke="#fff" stroke-width="2.2" stroke-linecap="round"/>
<path d="M1649.0 639.0 H1675.6 L1685.6 649.0 V689.0 Q1685.6 691.0 1683.6 691.0 H1649.0 Q1647.0 691.0 1647.0 689.0 V641.0 Q1647.0 639.0 1649.0 639.0 Z" fill="#f8edcf" stroke="#1b1b1f" stroke-width="2.2" stroke-linejoin="round"/>
<path d="M1675.6 639.0 V649.0 H1685.6 Z" fill="#f2b8a8" stroke="#1b1b1f" stroke-width="1.8" stroke-linejoin="round"/>
<path d="M1654.0 646.0 l8 8 m0 -8 l-8 8" stroke="#d9363e" stroke-width="2.2" stroke-linecap="round"/>
<path d="M1653.0 659.0 H1679.6 M1653.0 665.5 H1679.6 M1653.0 672.0 H1679.6 M1653.0 678.5 H1679.6 M1653.0 685.0 H1679.6 " stroke="#3a3320" stroke-width="2"/>
<path d="M1703.3 637.6 H1729.3 L1739.3 647.6 V689.0 Q1739.3 691.0 1737.3 691.0 H1703.3 Q1701.3 691.0 1701.3 689.0 V639.6 Q1701.3 637.6 1703.3 637.6 Z" fill="#f8edcf" stroke="#1b1b1f" stroke-width="2.2" stroke-linejoin="round"/>
<path d="M1729.3 637.6 V647.6 H1739.3 Z" fill="#a5dcc4" stroke="#1b1b1f" stroke-width="1.8" stroke-linejoin="round"/>
<path d="M1707.3 645.6 H1718.3 M1707.3 651.1 H1716.3" stroke="#3f9a6a" stroke-width="2"/>
<path d="M1707.3 657.6 H1733.3 M1707.3 664.5 H1733.3 M1707.3 671.3 H1733.3 M1707.3 678.1 H1733.3 M1707.3 685.0 H1733.3 " stroke="#3a3320" stroke-width="2"/>
<circle cx="1635" cy="580.6" r="1.6" fill="#5a4a2a"/><circle cx="1635" cy="588.4" r="1.6" fill="#5a4a2a"/><circle cx="1635" cy="596.5" r="1.6" fill="#5a4a2a"/>
<g stroke="#1b1b1f" stroke-linejoin="round" stroke-linecap="round">
<path d="M2055.0 455.6 C2056.1 453.4 2060.0 453.4 2063.9 452.8 C2067.7 452.3 2073.3 451.9 2078.0 452.3 C2082.7 452.7 2088.5 453.9 2092.1 455.2 C2095.6 456.4 2098.4 457.7 2099.1 459.9 C2099.8 462.0 2098.2 466.0 2096.3 468.3 C2094.3 470.7 2090.9 472.5 2087.4 473.9 C2083.8 475.4 2079.1 476.8 2075.1 476.8 C2071.2 476.8 2066.9 475.7 2063.9 473.9 C2060.9 472.2 2058.8 469.5 2057.3 466.4 C2055.8 463.4 2053.9 457.9 2055.0 455.6 Z" fill="#7a7768" stroke-width="3.3"/>
<path d="M2056.8 463.1 C2059.6 463.2 2066.8 463.4 2073.3 463.6 C2079.8 463.8 2092.1 464.4 2095.8 464.6" fill="none" stroke-width="1.82"/>
<path d="M2044.2 460.3 C2043.5 462.2 2047.8 466.5 2049.8 470.2 C2051.8 473.9 2054.3 479.1 2055.9 482.4 C2057.5 485.7 2058.3 488.3 2059.7 489.9 C2061.0 491.5 2062.5 492.1 2063.9 492.0 C2065.3 491.8 2068.1 491.4 2068.1 489.0 C2068.1 486.6 2065.4 481.2 2063.9 477.7 C2062.3 474.3 2060.4 471.4 2058.7 468.3 C2057.0 465.2 2056.0 460.2 2053.6 458.9 C2051.1 457.6 2044.8 458.4 2044.2 460.3 Z" fill="#f2d8a6" stroke-width="3.3"/>
<path d="M1979.4 425.1 C1979.2 422.0 1979.2 417.6 1980.3 413.8 C1981.4 410.1 1983.1 406.3 1985.9 402.5 C1988.8 398.8 1992.8 394.6 1997.2 391.3 C2001.6 388.0 2006.6 385.0 2012.2 382.8 C2017.9 380.6 2024.8 379.1 2031.0 378.1 C2037.3 377.1 2043.5 376.7 2049.8 377.0 C2056.1 377.3 2062.3 377.9 2068.6 380.0 C2074.8 382.1 2081.9 385.3 2087.4 389.4 C2092.8 393.5 2097.8 399.1 2101.4 404.4 C2105.0 409.7 2107.4 416.3 2109.0 421.3 C2110.5 426.3 2111.0 430.4 2110.8 434.5 C2110.7 438.6 2109.6 442.6 2108.0 445.8 C2106.4 448.9 2104.1 451.6 2101.4 453.3 C2098.8 454.9 2096.0 455.8 2092.1 455.6 C2088.1 455.5 2082.7 452.8 2078.0 452.3 C2073.3 451.9 2067.8 452.3 2063.9 452.8 C2060.0 453.4 2057.6 454.5 2054.5 455.6 C2051.4 456.8 2048.2 458.6 2045.1 459.9 C2042.0 461.1 2039.0 462.6 2035.7 463.1 C2032.4 463.7 2028.7 463.8 2025.4 463.1 C2022.1 462.4 2018.3 460.9 2016.0 458.9 C2013.6 457.0 2012.2 453.9 2011.3 451.4 C2010.4 448.9 2010.6 446.0 2010.8 443.9 C2011.1 441.8 2013.6 438.7 2012.7 438.7 C2011.8 438.7 2008.4 442.9 2005.7 443.9 C2002.9 444.9 1999.4 445.4 1996.3 444.8 C1993.1 444.2 1989.4 442.2 1986.9 440.1 C1984.4 438.1 1982.5 435.1 1981.2 432.6 C1980.0 430.1 1979.5 428.2 1979.4 425.1 Z" fill="#f2d8a6" stroke-width="3.3"/>
<path d="M2012.7 438.7 C2014.3 437.7 2018.7 434.1 2022.6 432.6 C2026.4 431.1 2031.2 431.5 2035.7 429.8 C2040.2 428.1 2045.7 423.8 2049.8 422.3 C2053.9 420.7 2057.6 420.2 2060.1 420.4 C2062.6 420.5 2064.0 422.7 2064.8 423.2 M2021.2 444.4 C2022.0 445.2 2025.9 447.7 2026.3 449.5 C2026.7 451.3 2024.0 454.2 2023.5 455.2 M2021.2 444.4 C2023.6 443.6 2030.9 441.5 2035.7 440.1 C2040.5 438.8 2045.1 437.1 2049.8 436.4 C2054.5 435.6 2059.2 436.4 2063.9 435.4 C2068.6 434.5 2073.6 432.4 2078.0 430.7 C2082.3 429.0 2087.3 427.3 2090.2 425.1 C2093.1 422.9 2094.5 418.8 2095.3 417.6 M2030.1 452.3 C2032.0 451.6 2037.3 449.2 2041.3 447.6 C2045.4 446.1 2050.0 443.9 2054.5 442.9 C2059.0 442.0 2063.9 442.5 2068.6 442.0 C2073.3 441.5 2078.3 439.4 2082.7 439.7 C2087.0 439.9 2092.2 442.1 2094.9 443.4 C2097.5 444.7 2098.0 446.9 2098.6 447.6 M2030.1 452.3 L2033.8 456.1 M1982.2 425.1 C1983.3 424.9 1987.1 422.7 1988.8 423.7 C1990.4 424.6 1990.5 428.9 1992.0 430.7 C1993.6 432.5 1995.9 434.2 1998.1 434.5 C2000.4 434.7 2003.5 432.1 2005.7 432.1 C2007.9 432.1 2010.4 434.1 2011.3 434.5 M1984.1 436.4 C1985.3 436.5 1990.0 437.6 1991.6 437.3 C1993.1 437.0 1993.1 435.0 1993.5 434.5 M1992.5 411.0 C1993.5 410.6 1996.5 408.2 1998.1 408.6 C1999.8 409.1 2002.3 411.9 2002.4 413.8 C2002.5 415.7 2000.1 419.2 1998.6 419.9 C1997.1 420.6 1994.3 418.4 1993.5 418.0 M2006.1 410.1 C2006.8 410.7 2010.1 412.6 2010.4 413.8 C2010.6 415.1 2008.6 417.3 2007.5 417.6 C2006.4 417.9 2004.4 416.0 2003.8 415.7 M1997.2 397.8 C1998.1 398.9 2000.7 403.6 2002.8 404.4 C2005.0 405.2 2008.5 403.9 2010.4 402.5 C2012.2 401.1 2012.1 397.5 2014.1 396.0 C2016.1 394.4 2020.5 393.1 2022.6 393.1 C2024.6 393.1 2025.7 395.5 2026.3 396.0 M2014.1 386.6 C2014.9 387.7 2018.3 390.8 2018.8 393.1 C2019.3 395.5 2016.6 398.5 2016.9 400.7 C2017.2 402.9 2020.4 404.1 2020.7 406.3 C2021.0 408.5 2018.5 411.3 2018.8 413.8 C2019.1 416.3 2022.3 419.1 2022.6 421.3 C2022.9 423.5 2021.0 426.0 2020.7 427.0 M2029.1 382.8 C2028.7 384.2 2026.0 389.1 2026.3 391.3 C2026.6 393.5 2030.4 393.8 2031.0 396.0 C2031.6 398.2 2030.9 402.1 2030.1 404.4 C2029.3 406.8 2026.3 407.5 2026.3 410.1 C2026.3 412.6 2028.5 416.9 2030.1 419.5 C2031.6 422.0 2034.8 424.1 2035.7 425.1 M2041.3 380.0 C2040.8 381.6 2038.0 386.3 2038.1 389.4 C2038.1 392.5 2041.6 395.6 2041.8 398.8 C2042.0 401.9 2039.2 405.4 2039.5 408.2 C2039.8 411.0 2043.4 413.2 2043.7 415.7 C2044.0 418.2 2041.7 422.0 2041.3 423.2 M2054.5 380.9 C2053.9 382.7 2050.7 388.0 2050.7 391.3 C2050.7 394.6 2054.2 397.7 2054.5 400.7 C2054.8 403.6 2052.1 406.8 2052.6 409.1 C2053.1 411.5 2056.5 413.8 2057.3 414.8 M2063.9 422.3 C2063.3 420.5 2060.0 415.2 2060.1 411.9 C2060.3 408.6 2062.5 404.4 2064.8 402.5 C2067.2 400.7 2071.5 399.7 2074.2 400.7 C2076.9 401.6 2080.5 405.4 2081.3 408.2 C2082.0 411.0 2080.5 415.4 2078.9 417.6 C2077.3 419.8 2073.7 421.3 2071.9 421.3 C2070.0 421.3 2068.0 419.1 2067.6 417.6 C2067.2 416.0 2069.2 412.9 2069.5 411.9 M2069.5 386.6 C2070.9 388.1 2075.0 393.0 2078.0 396.0 C2080.9 398.9 2085.2 401.1 2087.4 404.4 C2089.5 407.7 2091.1 411.9 2091.1 415.7 C2091.1 419.5 2089.1 423.8 2087.4 427.0 C2085.6 430.1 2081.9 433.2 2080.8 434.5 M2087.4 396.0 C2088.9 397.8 2094.4 403.0 2096.7 407.2 C2099.1 411.5 2100.9 416.8 2101.4 421.3 C2102.0 425.9 2101.1 431.4 2100.0 434.5 C2098.9 437.6 2095.7 439.2 2094.9 440.1 M2103.8 425.1 C2104.1 427.0 2106.1 433.0 2105.7 436.4 C2105.3 439.7 2102.1 443.8 2101.4 445.3 M2001.0 425.1 C2001.7 424.5 2003.9 421.3 2005.7 421.3 C2007.4 421.3 2009.7 425.1 2011.3 425.1 C2012.9 425.1 2014.4 422.0 2015.1 421.3" fill="none" stroke-width="2.60"/>
</g>
<path d="M2045.8 540.2 L2093 552.5 M2045.8 540.2 L2109.3 601 M2045.8 540.2 L2093.7 649.3 M2045.8 540.2 L2045.2 662.2 M2045.8 540.2 L1996.9 649.3 M2045.8 540.2 L1981.3 601 M2045.8 540.2 L1996.9 552.5 M2093 552.5 L2109.3 601 M2093 552.5 L2093.7 649.3 M2093 552.5 L2045.2 662.2 M2093 552.5 L1996.9 649.3 M2093 552.5 L1981.3 601 M2093 552.5 L1996.9 552.5 M2109.3 601 L2093.7 649.3 M2109.3 601 L2045.2 662.2 M2109.3 601 L1996.9 649.3 M2109.3 601 L1981.3 601 M2109.3 601 L1996.9 552.5 M2093.7 649.3 L2045.2 662.2 M2093.7 649.3 L1996.9 649.3 M2093.7 649.3 L1981.3 601 M2093.7 649.3 L1996.9 552.5 M2045.2 662.2 L1996.9 649.3 M2045.2 662.2 L1981.3 601 M2045.2 662.2 L1996.9 552.5 M1996.9 649.3 L1981.3 601 M1996.9 649.3 L1996.9 552.5 M1981.3 601 L1996.9 552.5 " stroke="#1b1b1f" stroke-width="2.2" fill="none"/>
<circle cx="2045.8" cy="540.2" r="8.6" fill="#f7b56f" stroke="#1b1b1f" stroke-width="2.6"/>
<circle cx="2093" cy="552.5" r="8.6" fill="#f7b56f" stroke="#1b1b1f" stroke-width="2.6"/>
<circle cx="2109.3" cy="601" r="8.6" fill="#f7b56f" stroke="#1b1b1f" stroke-width="2.6"/>
<circle cx="2093.7" cy="649.3" r="8.6" fill="#f7b56f" stroke="#1b1b1f" stroke-width="2.6"/>
<circle cx="2045.2" cy="662.2" r="8.6" fill="#f7b56f" stroke="#1b1b1f" stroke-width="2.6"/>
<circle cx="1996.9" cy="649.3" r="8.6" fill="#f7b56f" stroke="#1b1b1f" stroke-width="2.6"/>
<circle cx="1981.3" cy="601" r="8.6" fill="#f7b56f" stroke="#1b1b1f" stroke-width="2.6"/>
<circle cx="1996.9" cy="552.5" r="8.6" fill="#f7b56f" stroke="#1b1b1f" stroke-width="2.6"/>
<path d="M2218.4 504.3 H2264.4 L2280.4 520.3 V584.9 Q2280.4 588.9 2276.4 588.9 H2218.4 Q2214.4 588.9 2214.4 584.9 V508.3 Q2214.4 504.3 2218.4 504.3 Z" fill="#fbf1d8" stroke="#1b1b1f" stroke-width="2.8" stroke-linejoin="round"/>
<path d="M2218.4 530.3 V580.9" stroke="#1b1b1f" stroke-width="1.4" stroke-dasharray="3 3"/>
<path d="M2229.0 518.2 H2275.0 L2291.0 534.2 V598.8 Q2291.0 602.8 2287.0 602.8 H2229.0 Q2225.0 602.8 2225.0 598.8 V522.2 Q2225.0 518.2 2229.0 518.2 Z" fill="#fbf1d8" stroke="#1b1b1f" stroke-width="2.8" stroke-linejoin="round"/>
<circle cx="2238.0" cy="531.2" r="11" fill="#35bf5c"/>
<path d="M2233.0 531.2 l4 4 l7 -8" stroke="#d8f5df" stroke-width="2" fill="none"/>
<path d="M2229.0 544.2 V594.8" stroke="#1b1b1f" stroke-width="1.4" stroke-dasharray="3 3"/>
<path d="M2239.6 532.1 H2285.6 L2301.6 548.1 V612.7 Q2301.6 616.7 2297.6 616.7 H2239.6 Q2235.6 616.7 2235.6 612.7 V536.1 Q2235.6 532.1 2239.6 532.1 Z" fill="#fbf1d8" stroke="#1b1b1f" stroke-width="2.8" stroke-linejoin="round"/>
<path d="M2239.6 558.1 V608.7" stroke="#1b1b1f" stroke-width="1.4" stroke-dasharray="3 3"/>
<path d="M2250.2 546.0 H2296.2 L2312.2 562.0 V626.6 Q2312.2 630.6 2308.2 630.6 H2250.2 Q2246.2 630.6 2246.2 626.6 V550.0 Q2246.2 546.0 2250.2 546.0 Z" fill="#fbf1d8" stroke="#1b1b1f" stroke-width="2.8" stroke-linejoin="round"/>
<circle cx="2259.2" cy="559.0" r="11" fill="#35bf5c"/>
<path d="M2254.2 559.0 l4 4 l7 -8" stroke="#d8f5df" stroke-width="2" fill="none"/>
<path d="M2250.2 572.0 V622.6" stroke="#1b1b1f" stroke-width="1.4" stroke-dasharray="3 3"/>
<path d="M2260.8 559.9 H2306.8 L2322.8 575.9 V640.5 Q2322.8 644.5 2318.8 644.5 H2260.8 Q2256.8 644.5 2256.8 640.5 V563.9 Q2256.8 559.9 2260.8 559.9 Z" fill="#fbf1d8" stroke="#1b1b1f" stroke-width="2.8" stroke-linejoin="round"/>
<path d="M2306.8 559.9 V575.9 H2322.8 Z" fill="#f5bfa5" stroke="#1b1b1f" stroke-width="2" stroke-linejoin="round"/>
<path d="M2266.8 569.9 H2284.8 M2266.8 577.9 H2282.8" stroke="#3f9a5a" stroke-width="2.6"/>
<path d="M2266.8 586.9 H2312.8 M2266.8 595.9 H2312.8 M2266.8 604.9 H2312.8 M2266.8 613.9 H2312.8 M2266.8 622.9 H2312.8 M2266.8 631.9 H2296.8 " stroke="#1b1b1f" stroke-width="2.4"/>
<circle cx="2315.4" cy="633.3" r="15.3" fill="#2fb457"/>
<path d="M2307.5 633.8 l5.5 5.8 l10.5 -12" stroke="#fff" stroke-width="3.6" fill="none" stroke-linecap="round" stroke-linejoin="round"/>
<rect x="1919.4" y="1126" width="87.6" height="82.9" rx="6.5" fill="#fdf4de" stroke="#1b1b1f" stroke-width="2.2"/>
<rect x="1927.8" y="1134.4" width="88.0" height="83.2" rx="6.5" fill="#fdf4de" stroke="#1b1b1f" stroke-width="2.2"/>
<rect x="1936.3" y="1143.2" width="87.6" height="84.4" rx="6.5" fill="#fdf4de" stroke="#1b1b1f" stroke-width="2.2"/>
<path d="M1945.3 1154.8 H2013.6 M1945.3 1163.6 H1997.6 M1999.5 1163.6 H2013.6 M1945.3 1172.1 H2013.6 M1945.3 1180.8 H1996.1 M1998.9 1180.8 H2013.6 M1945.3 1189.5 H2013.6 M1945.3 1198.2 H1992.6 M1995.1 1198.2 H2013.6 M1945.3 1206.7 H1971.6 M1975.1 1206.7 H2013.6 M1945.3 1215.5 H1982.9 " stroke="#1b1b1f" stroke-width="2.8" stroke-linecap="round"/>
<rect x="2116.5" y="1141.4" width="23" height="23" rx="5.5" fill="#f6ecd2" stroke="#1b1b1f" stroke-width="2.2"/>
<path d="M2121.7 1147.6000000000001 h12.6 M2121.7 1152.9 h12.6 M2121.7 1158.2 h12.6" stroke="#2a2a2a" stroke-width="1.9"/>
<rect x="2146.3" y="1155.8" width="23" height="23" rx="5.5" fill="#f6ecd2" stroke="#1b1b1f" stroke-width="2.2"/>
<path d="M2151.5 1162.0 h12.6 M2151.5 1167.3 h12.6 M2151.5 1172.6 h12.6" stroke="#2a2a2a" stroke-width="1.9"/>
<rect x="2098.1" y="1165.7" width="23" height="23" rx="5.5" fill="#f6ecd2" stroke="#1b1b1f" stroke-width="2.2"/>
<path d="M2103.2999999999997 1171.9 h12.6 M2103.2999999999997 1177.2 h12.6 M2103.2999999999997 1182.5 h12.6" stroke="#2a2a2a" stroke-width="1.9"/>
<rect x="2126.9" y="1179.9" width="23" height="23" rx="5.5" fill="#f6ecd2" stroke="#1b1b1f" stroke-width="2.2"/>
<path d="M2132.1 1186.1000000000001 h12.6 M2132.1 1191.4 h12.6 M2132.1 1196.7 h12.6" stroke="#2a2a2a" stroke-width="1.9"/>
<path d="M2509.1 799.6 C2495.9 792.4 2491.5 776.0 2496.4 761.8 A19 19 0 0 1 2527.6 756.8 M2515.6 794.8 C2509.1 781.2 2515.2 765.4 2527.6 756.8 A19 19 0 0 1 2555.7 771.1 M2523.6 794.8 C2526.4 780.0 2540.6 770.8 2555.7 771.1 A19 19 0 0 1 2570.0 799.2 M2530.1 799.6 C2541.0 789.2 2558.0 790.1 2570.0 799.2 A19 19 0 0 1 2565.0 830.4 M2532.6 807.2 C2547.5 805.2 2560.7 815.9 2565.0 830.4 A19 19 0 0 1 2542.8 852.6 M2530.1 814.8 C2543.3 822.0 2547.7 838.4 2542.8 852.6 A19 19 0 0 1 2511.6 857.6 M2523.6 819.6 C2530.1 833.2 2524.0 849.0 2511.6 857.6 A19 19 0 0 1 2483.5 843.3 M2515.6 819.6 C2512.8 834.4 2498.6 843.6 2483.5 843.3 A19 19 0 0 1 2469.2 815.2 M2509.1 814.8 C2498.2 825.2 2481.2 824.3 2469.2 815.2 A19 19 0 0 1 2474.2 784.0 M2506.6 807.2 C2491.7 809.2 2478.5 798.5 2474.2 784.0 A19 19 0 0 1 2496.4 761.8 " fill="none" stroke="#1b1b1f" stroke-width="4.9" stroke-linecap="round" stroke-linejoin="round"/>
<circle cx="2519.6" cy="807.2" r="13" fill="none" stroke="#1b1b1f" stroke-width="4.9"/>
<path d="M2524.6 786.2 C2535.6 782.2 2543.6 782.2 2552.6 784.2 M2516.6 828.2 C2507.6 831.2 2501.6 831.2 2497.6 828.2 M2532.6 820.2 C2532.6 829.2 2530.6 835.2 2527.6 839.2" stroke="#1b1b1f" stroke-width="2.6" stroke-dasharray="6 4" fill="none" stroke-linecap="round"/>
<circle cx="2549.6" cy="785.2" r="3.8" fill="#3d8f87" stroke="#1b1b1f" stroke-width="2.6"/>
<circle cx="2492.6" cy="828.2" r="3.8" fill="#3d8f87" stroke="#1b1b1f" stroke-width="2.6"/>
<circle cx="2524.6" cy="843.2" r="3.8" fill="#3d8f87" stroke="#1b1b1f" stroke-width="2.6"/>
<path d="M2587 853.8 H2637 L2665.2 881 V2955" fill="none"/>
<path d="M2588 853.8 H2637 L2665.2 880 V954 Q2665.2 961.2 2658 961.2 H2588 Q2580.7 961.2 2580.7 954 V861 Q2580.7 853.8 2588 853.8 Z" fill="none" stroke="#1b1b1f" stroke-width="4.6" stroke-linejoin="round"/>
<path d="M2637 855 V874 Q2637 880 2643 880 H2664" fill="none" stroke="#1b1b1f" stroke-width="4.4" stroke-linejoin="round"/>
<path d="M2596.3 897.6 H2649.5 M2596.3 910.7 H2649.5 M2596.3 923.7 H2649.5 M2596.3 937.9 H2625.5" stroke="#1b1b1f" stroke-width="4.2" stroke-linecap="round"/>
<path d="M2589 795.4 C2616 795.4 2630 806 2632 826" fill="none" stroke="#1b1b1f" stroke-width="4.2" stroke-linecap="round"/>
<path d="M0 0 L-17 -9.5 L-17 9.5 Z" fill="#1b1b1f" transform="translate(2632.6 842) rotate(88)"/>
<path d="M2514.3 876.7 C2514.3 902 2530 914.9 2554 914.9" fill="none" stroke="#1b1b1f" stroke-width="4.2" stroke-linecap="round"/>
<path d="M0 0 L-17 -9.5 L-17 9.5 Z" fill="#1b1b1f" transform="translate(2570.5 914.9) rotate(0)"/>
<text y="84.1" font-size="77" fill="#161616" stroke="#161616" stroke-width="1.5"><tspan x="390.7" textLength="338.5" lengthAdjust="spacingAndGlyphs">Advanced</tspan> <tspan x="745.6" textLength="150.3" lengthAdjust="spacingAndGlyphs">RAG</tspan> <tspan x="912.2" textLength="415.9" lengthAdjust="spacingAndGlyphs">Architecture</tspan> <tspan x="1348.7" textLength="150.2" lengthAdjust="spacingAndGlyphs">(The</tspan> <tspan x="1516.2" textLength="399.0" lengthAdjust="spacingAndGlyphs">Engineering</tspan> <tspan x="1931.8" textLength="68.6" lengthAdjust="spacingAndGlyphs">of</tspan> <tspan x="2017.2" textLength="347.3" lengthAdjust="spacingAndGlyphs">Reliability)</tspan></text>
<text x="320.4" y="168.2" font-size="38" font-weight="700" fill="#161616" stroke="#161616" stroke-width="0.7" text-anchor="start" textLength="446.6" lengthAdjust="spacingAndGlyphs">Pre-Retrieval Optimization</text>
<text x="394.5" y="209.6" font-size="38" font-weight="400" fill="#161616" stroke="#161616" stroke-width="0.8" text-anchor="start" textLength="298.2" lengthAdjust="spacingAndGlyphs">(Input Refinement)</text>
<text x="1110.7" y="168.2" font-size="38" font-weight="700" fill="#161616" stroke="#161616" stroke-width="0.7" text-anchor="start" textLength="271.8" lengthAdjust="spacingAndGlyphs">Hybrid Retrieval</text>
<text x="1048.9" y="209.6" font-size="38" font-weight="400" fill="#161616" stroke="#161616" stroke-width="0.8" text-anchor="start" textLength="394.4" lengthAdjust="spacingAndGlyphs">(Dense + Sparse Fusion)</text>
<text x="1847.7" y="168.2" font-size="38" font-weight="700" fill="#161616" stroke="#161616" stroke-width="0.7" text-anchor="start" textLength="440.8" lengthAdjust="spacingAndGlyphs">Post-Retrieval Refinement</text>
<text x="1901.8" y="209.6" font-size="38" font-weight="400" fill="#161616" stroke="#161616" stroke-width="0.8" text-anchor="start" textLength="333.5" lengthAdjust="spacingAndGlyphs">(The Precision Filter)</text>
<text x="2424.7" y="168.2" font-size="38" font-weight="700" fill="#161616" stroke="#161616" stroke-width="0.7" text-anchor="start" textLength="277.4" lengthAdjust="spacingAndGlyphs">Final Generation</text>
<text x="2449.8" y="209.6" font-size="38" font-weight="400" fill="#161616" stroke="#161616" stroke-width="0.8" text-anchor="start" textLength="226.5" lengthAdjust="spacingAndGlyphs">(High Fidelity)</text>
<text x="60.3" y="485.7" font-size="24.4" font-weight="700" fill="#fff" stroke="#fff" stroke-width="0.5" text-anchor="start" textLength="105.5" lengthAdjust="spacingAndGlyphs">Raw User</text>
<text x="79.6" y="512.3" font-size="24.4" font-weight="700" fill="#fff" stroke="#fff" stroke-width="0.5" text-anchor="start" textLength="66.6" lengthAdjust="spacingAndGlyphs">Query</text>
<text x="346.4" y="269.7" font-size="29.5" font-weight="700" fill="#fff" stroke="#fff" stroke-width="0.5" text-anchor="start" textLength="394.9" lengthAdjust="spacingAndGlyphs">Query Transformation Engine</text>
<text x="371.1" y="335.5" font-size="25" font-weight="700" fill="#fff" stroke="#fff" stroke-width="0.5" text-anchor="start" textLength="344.0" lengthAdjust="spacingAndGlyphs">Query Expansion / Multi-Query</text>
<text x="401.6" y="423.7" font-size="25" font-weight="700" fill="#161616" stroke="#161616" stroke-width="0.5" text-anchor="start" textLength="70.7" lengthAdjust="spacingAndGlyphs">Query</text>
<text x="437" y="508.8" font-size="23.8" text-anchor="middle" textLength="233.3" lengthAdjust="spacingAndGlyphs" fill="#161616" stroke="#161616" stroke-width="0.6"><tspan font-weight="700" stroke-width="0.5">Example:</tspan> 'Solar Pricing'</text>
<text x="291.8" y="532.8" font-size="23.8" font-weight="400" fill="#161616" stroke="#161616" stroke-width="0.6" text-anchor="start" textLength="291.0" lengthAdjust="spacingAndGlyphs">-&gt; [‘Cost of PV panels', ‘Solar</text>
<text x="300.1" y="557.0" font-size="23.8" font-weight="400" fill="#161616" stroke="#161616" stroke-width="0.6" text-anchor="start" textLength="274.9" lengthAdjust="spacingAndGlyphs">tariffs', 'Energy economics']</text>
<text x="609.9" y="511.0" font-size="23.8" font-weight="400" fill="#161616" stroke="#161616" stroke-width="0.6" text-anchor="start" textLength="169.2" lengthAdjust="spacingAndGlyphs">Broadens search</text>
<text x="620.3" y="536.0" font-size="23.8" font-weight="400" fill="#161616" stroke="#161616" stroke-width="0.6" text-anchor="start" textLength="148.3" lengthAdjust="spacingAndGlyphs">scope to catch</text>
<text x="640.6" y="560.0" font-size="23.8" font-weight="400" fill="#161616" stroke="#161616" stroke-width="0.6" text-anchor="start" textLength="108.7" lengthAdjust="spacingAndGlyphs">synonyms.</text>
<text x="296.0" y="622.3" font-size="25" font-weight="700" fill="#fff" stroke="#fff" stroke-width="0.5" text-anchor="start" textLength="493.7" lengthAdjust="spacingAndGlyphs">HyDE (Hypothetical Document Embeddings)</text>
<text x="502.9" y="687.7" font-size="19.5" font-weight="700" fill="#161616" stroke="#161616" stroke-width="0.5" text-anchor="start" textLength="109.0" lengthAdjust="spacingAndGlyphs">[Hallucinated</text>
<text x="522.4" y="707.1" font-size="19.5" font-weight="700" fill="#161616" stroke="#161616" stroke-width="0.5" text-anchor="start" textLength="68.6" lengthAdjust="spacingAndGlyphs">Answer]</text>
<text x="644.7" y="766.3" font-size="22.5" font-weight="700" fill="#161616" stroke="#161616" stroke-width="0.5" text-anchor="start" textLength="143.9" lengthAdjust="spacingAndGlyphs">Vector Search</text>
<text x="351.3" y="807.8" font-size="22.2" font-weight="400" fill="#161616" stroke="#161616" stroke-width="0.6" text-anchor="start" textLength="393.1" lengthAdjust="spacingAndGlyphs">Search by Answer-to-Answer similarity,</text>
<text x="424.2" y="832.3" font-size="22.2" font-weight="400" fill="#161616" stroke="#161616" stroke-width="0.6" text-anchor="start" textLength="245.7" lengthAdjust="spacingAndGlyphs">not Question-to-Answer.</text>
<text x="416.0" y="919.2" font-size="30" font-weight="700" fill="#fff" stroke="#fff" stroke-width="0.5" text-anchor="start" textLength="257.3" lengthAdjust="spacingAndGlyphs">Advanced Indexing</text>
<text x="286.7" y="983.3" font-size="25.5" font-weight="700" fill="#fff" stroke="#fff" stroke-width="0.5" text-anchor="start" textLength="203.7" lengthAdjust="spacingAndGlyphs">Semantic Chunker</text>
<text x="324.9" y="1165.4" font-size="23.4" font-weight="400" fill="#161616" stroke="#161616" stroke-width="0.6" text-anchor="start" textLength="127.1" lengthAdjust="spacingAndGlyphs">Logic-Aware</text>
<text x="319.5" y="1190.0" font-size="23.4" font-weight="400" fill="#161616" stroke="#161616" stroke-width="0.6" text-anchor="start" textLength="139.8" lengthAdjust="spacingAndGlyphs">Segmentation</text>
<text x="550.3" y="983.3" font-size="25.5" font-weight="700" fill="#fff" stroke="#fff" stroke-width="0.5" text-anchor="start" textLength="231.1" lengthAdjust="spacingAndGlyphs">Parent-Child Indexer</text>
<text x="665.4" y="1016.5" font-size="19" font-weight="700" fill="#161616" stroke="#161616" stroke-width="0.5" text-anchor="start" textLength="106.9" lengthAdjust="spacingAndGlyphs">Child Chunks</text>
<text x="665.2" y="1036.7" font-size="19" font-weight="700" fill="#161616" stroke="#161616" stroke-width="0.5" text-anchor="start" textLength="97.3" lengthAdjust="spacingAndGlyphs">(Sentences)</text>
<text x="681.3" y="1095.9" font-size="19" font-weight="700" fill="#161616" stroke="#161616" stroke-width="0.5" text-anchor="start" textLength="118.3" lengthAdjust="spacingAndGlyphs">Parent Chunks</text>
<text x="681.5" y="1115.4" font-size="19" font-weight="700" fill="#161616" stroke="#161616" stroke-width="0.5" text-anchor="start" textLength="105.0" lengthAdjust="spacingAndGlyphs">(Paragraphs)</text>
<text x="551.2" y="1146.5" font-size="22.5" font-weight="700" fill="#161616" stroke="#161616" stroke-width="0.5" text-anchor="start" textLength="229.5" lengthAdjust="spacingAndGlyphs">Granular Search, Holistic</text>
<text x="666" y="1169.3" font-size="22.5" text-anchor="middle" textLength="218.9" lengthAdjust="spacingAndGlyphs" fill="#161616" stroke="#161616" stroke-width="0.6"><tspan font-weight="700" stroke-width="0.5">Context:</tspan> Searches small</text>
<text x="535.5" y="1191.1" font-size="22.5" font-weight="400" fill="#161616" stroke="#161616" stroke-width="0.6" text-anchor="start" textLength="261.0" lengthAdjust="spacingAndGlyphs">chunks for precision, returns</text>
<text x="550.6" y="1213.9" font-size="22.5" font-weight="400" fill="#161616" stroke="#161616" stroke-width="0.6" text-anchor="start" textLength="231.5" lengthAdjust="spacingAndGlyphs">large parents for context.</text>
<text x="1115.1" y="269.0" font-size="29.5" font-weight="700" fill="#fff" stroke="#fff" stroke-width="0.5" text-anchor="start" textLength="262.4" lengthAdjust="spacingAndGlyphs">Dual-Path Retrieval</text>
<text x="959.9" y="339.3" font-size="24.5" font-weight="700" fill="#fff" stroke="#fff" stroke-width="0.5" text-anchor="start" textLength="234.3" lengthAdjust="spacingAndGlyphs">Dense Vector Search</text>
<text x="987.3" y="366.5" font-size="24.5" font-weight="700" fill="#fff" stroke="#fff" stroke-width="0.5" text-anchor="start" textLength="179.5" lengthAdjust="spacingAndGlyphs">(Semantic Path)</text>
<text x="1002.8" y="543.7" font-size="23.5" font-weight="400" fill="#161616" stroke="#161616" stroke-width="0.6" text-anchor="start" textLength="148.2" lengthAdjust="spacingAndGlyphs">Understanding</text>
<text x="976.6" y="568.0" font-size="23.5" font-weight="400" fill="#161616" stroke="#161616" stroke-width="0.6" text-anchor="start" textLength="200.8" lengthAdjust="spacingAndGlyphs">Meaning / Concepts</text>
<text x="945.5" y="662.7" font-size="24.5" font-weight="700" fill="#fff" stroke="#fff" stroke-width="0.5" text-anchor="start" textLength="264.3" lengthAdjust="spacingAndGlyphs">Sparse Keyword Search</text>
<text x="971.0" y="690.5" font-size="24.5" font-weight="700" fill="#fff" stroke="#fff" stroke-width="0.5" text-anchor="start" textLength="212.1" lengthAdjust="spacingAndGlyphs">(Exact Match Path)</text>
<text x="1002.3" y="739.3" font-size="24" font-weight="700" fill="#161616" stroke="#161616" stroke-width="0.5" text-anchor="start" textLength="149.7" lengthAdjust="spacingAndGlyphs">BM25 / Splade</text>
<text x="984.9" y="874.3" font-size="23.5" font-weight="400" fill="#161616" stroke="#161616" stroke-width="0.6" text-anchor="start" textLength="185.3" lengthAdjust="spacingAndGlyphs">Exact Product IDs,</text>
<text x="986.7" y="898.5" font-size="23.5" font-weight="400" fill="#161616" stroke="#161616" stroke-width="0.6" text-anchor="start" textLength="180.5" lengthAdjust="spacingAndGlyphs">Names, Acronyms</text>
<text x="1331.7" y="476.8" font-size="24.5" font-weight="700" fill="#fff" stroke="#fff" stroke-width="0.5" text-anchor="start" textLength="179.4" lengthAdjust="spacingAndGlyphs">Reciprocal Rank</text>
<text x="1350.5" y="503.2" font-size="24.5" font-weight="700" fill="#fff" stroke="#fff" stroke-width="0.5" text-anchor="start" textLength="142.8" lengthAdjust="spacingAndGlyphs">Fusion (RRF)</text>
<text x="1309.4" y="730" font-size="21.5" font-weight="700" fill="#161616" textLength="109.7" lengthAdjust="spacingAndGlyphs">RRF<tspan font-size="15" dy="3.5">score</tspan><tspan dy="-3.5">(d) =</tspan></text>
<text x="1480.2" y="716.0" font-size="20" font-weight="700" fill="#161616" stroke="#161616" stroke-width="0.5" text-anchor="middle" textLength="10.4" lengthAdjust="spacingAndGlyphs">1</text>
<text x="1426.5" y="745.2" font-size="19.5" font-weight="700" fill="#161616" stroke="#161616" stroke-width="0.5" text-anchor="start" textLength="108.6" lengthAdjust="spacingAndGlyphs">(k + rank(d))</text>
<text x="1319.6" y="797.2" font-size="22.5" font-weight="700" fill="#161616" stroke="#161616" stroke-width="0.5" text-anchor="start" textLength="206.4" lengthAdjust="spacingAndGlyphs">Rank Normalization:</text>
<text x="1328.6" y="820.9" font-size="23" font-weight="400" fill="#161616" stroke="#161616" stroke-width="0.6" text-anchor="start" textLength="187.1" lengthAdjust="spacingAndGlyphs">Balances semantic</text>
<text x="1304.0" y="845.1" font-size="23" font-weight="400" fill="#161616" stroke="#161616" stroke-width="0.6" text-anchor="start" textLength="236.2" lengthAdjust="spacingAndGlyphs">relevance with keyword</text>
<text x="1310.2" y="869.4" font-size="23" font-weight="400" fill="#161616" stroke="#161616" stroke-width="0.6" text-anchor="start" textLength="223.6" lengthAdjust="spacingAndGlyphs">precision. A document</text>
<text x="1301.0" y="893.7" font-size="23" font-weight="400" fill="#161616" stroke="#161616" stroke-width="0.6" text-anchor="start" textLength="243.1" lengthAdjust="spacingAndGlyphs">top-ranked in BOTH lists</text>
<text x="1314.3" y="917.9" font-size="23" font-weight="400" fill="#161616" stroke="#161616" stroke-width="0.6" text-anchor="start" textLength="216.8" lengthAdjust="spacingAndGlyphs">gets a massive boost.</text>
<text x="1202.0" y="1062.9" font-size="26.5" font-weight="700" fill="#fff" stroke="#fff" stroke-width="0.5" text-anchor="start" textLength="78.0" lengthAdjust="spacingAndGlyphs">Vector</text>
<text x="1141.0" y="1091.3" font-size="26.5" font-weight="700" fill="#fff" stroke="#fff" stroke-width="0.5" text-anchor="start" textLength="200.0" lengthAdjust="spacingAndGlyphs">Knowledge Base</text>
<text x="1150.9" y="1241.9" font-size="26.5" font-weight="700" fill="#fff" stroke="#fff" stroke-width="0.5" text-anchor="start" textLength="178.1" lengthAdjust="spacingAndGlyphs">Keyword Index</text>
<text x="1627.4" y="463.4" font-size="26" font-weight="700" fill="#161616" stroke="#161616" stroke-width="0.5" text-anchor="start" textLength="134.1" lengthAdjust="spacingAndGlyphs">Top-50 Raw</text>
<text x="1630.0" y="490.2" font-size="26" font-weight="700" fill="#161616" stroke="#161616" stroke-width="0.5" text-anchor="start" textLength="128.5" lengthAdjust="spacingAndGlyphs">Candidates</text>
<text x="1634.7" y="724.8" font-size="23.5" font-weight="400" fill="#161616" stroke="#161616" stroke-width="0.6" text-anchor="start" textLength="119.2" lengthAdjust="spacingAndGlyphs">High Recall,</text>
<text x="1625.7" y="749.1" font-size="23.5" font-weight="400" fill="#161616" stroke="#161616" stroke-width="0.6" text-anchor="start" textLength="137.7" lengthAdjust="spacingAndGlyphs">Low Precision</text>
<text x="1933.9" y="269.8" font-size="29.5" font-weight="700" fill="#fff" stroke="#fff" stroke-width="0.5" text-anchor="start" textLength="273.1" lengthAdjust="spacingAndGlyphs">Two-Stage Retrieval</text>
<text x="1869.1" y="340.3" font-size="24.5" font-weight="700" fill="#fff" stroke="#fff" stroke-width="0.5" text-anchor="start" textLength="274.8" lengthAdjust="spacingAndGlyphs">Cross-Encoder Reranker</text>
<text x="1873.7" y="416.7" font-size="22.5" font-weight="700" fill="#161616" stroke="#161616" stroke-width="0.5" text-anchor="start" textLength="61.1" lengthAdjust="spacingAndGlyphs">Query</text>
<text x="1850.8" y="488.6" font-size="22" font-weight="700" fill="#161616" stroke="#161616" stroke-width="0.5" text-anchor="start" textLength="105.2" lengthAdjust="spacingAndGlyphs">Document</text>
<text x="1945.5" y="699.2" font-size="21" font-weight="700" fill="#161616" stroke="#161616" stroke-width="0.5" text-anchor="start" textLength="171.9" lengthAdjust="spacingAndGlyphs">Full Self-Attention</text>
<text x="1897.8" y="721.7" font-size="21" font-weight="700" fill="#161616" stroke="#161616" stroke-width="0.5" text-anchor="start" textLength="266.2" lengthAdjust="spacingAndGlyphs">(All-to-All Token Interaction)</text>
<text x="1864.6" y="828.5" font-size="22.5" font-weight="400" fill="#161616" stroke="#161616" stroke-width="0.6" text-anchor="start" textLength="283.9" lengthAdjust="spacingAndGlyphs">Re-scores candidates based</text>
<text x="1917.2" y="852.7" font-size="22.5" font-weight="400" fill="#161616" stroke="#161616" stroke-width="0.6" text-anchor="start" textLength="180.2" lengthAdjust="spacingAndGlyphs">on true relevance,</text>
<text x="1865.5" y="876.9" font-size="22.5" font-weight="400" fill="#161616" stroke="#161616" stroke-width="0.6" text-anchor="start" textLength="283.7" lengthAdjust="spacingAndGlyphs">discarding 90% of the noise.</text>
<text x="2232.7" y="430.2" font-size="25" font-weight="700" fill="#161616" stroke="#161616" stroke-width="0.5" text-anchor="start" textLength="64.3" lengthAdjust="spacingAndGlyphs">Top-5</text>
<text x="2198.3" y="456.7" font-size="25" font-weight="700" fill="#161616" stroke="#161616" stroke-width="0.5" text-anchor="start" textLength="130.6" lengthAdjust="spacingAndGlyphs">Re-Ordered</text>
<text x="2200.3" y="483.1" font-size="25" font-weight="700" fill="#161616" stroke="#161616" stroke-width="0.5" text-anchor="start" textLength="126.9" lengthAdjust="spacingAndGlyphs">Candidates</text>
<text x="2236.6" y="678.8" font-size="23" font-weight="700" fill="#161616" stroke="#161616" stroke-width="0.5" text-anchor="start" textLength="57.2" lengthAdjust="spacingAndGlyphs">Top-5</text>
<text x="2205.0" y="703.9" font-size="23" font-weight="700" fill="#161616" stroke="#161616" stroke-width="0.5" text-anchor="start" textLength="117.9" lengthAdjust="spacingAndGlyphs">Re-Ordered</text>
<text x="2207.0" y="726.9" font-size="23" font-weight="700" fill="#161616" stroke="#161616" stroke-width="0.5" text-anchor="start" textLength="114.0" lengthAdjust="spacingAndGlyphs">Candidates</text>
<text x="1995.0" y="973.7" font-size="21.5" font-weight="700" fill="#161616" stroke="#161616" stroke-width="0.5" text-anchor="start" textLength="101.0" lengthAdjust="spacingAndGlyphs">(Optional)</text>
<text x="1927.6" y="1015.2" font-size="24.5" font-weight="700" fill="#fff" stroke="#fff" stroke-width="0.5" text-anchor="start" textLength="241.8" lengthAdjust="spacingAndGlyphs">Context Compression</text>
<text x="1946.6" y="1073.6" font-size="24.5" font-weight="700" fill="#fff" stroke="#fff" stroke-width="0.5" text-anchor="start" textLength="200.7" lengthAdjust="spacingAndGlyphs">LLM Summarizer /</text>
<text x="1979.7" y="1099.4" font-size="24.5" font-weight="700" fill="#fff" stroke="#fff" stroke-width="0.5" text-anchor="start" textLength="135.7" lengthAdjust="spacingAndGlyphs">Compressor</text>
<text x="2078.1" y="1227.6" font-size="18.3" font-weight="700" fill="#161616" stroke="#161616" stroke-width="0.5" text-anchor="start" textLength="110.8" lengthAdjust="spacingAndGlyphs">Fact Nuggets</text>
<text x="1907.4" y="1269.6" font-size="20" font-weight="400" fill="#161616" stroke="#161616" stroke-width="0.6" text-anchor="start" textLength="280.4" lengthAdjust="spacingAndGlyphs">Maximize Signal-to-Noise Ratio</text>
<text x="2479.0" y="339.5" font-size="25" font-weight="700" fill="#fff" stroke="#fff" stroke-width="0.5" text-anchor="start" textLength="169.3" lengthAdjust="spacingAndGlyphs">Context-Aware</text>
<text x="2446.4" y="366.1" font-size="25" font-weight="700" fill="#fff" stroke="#fff" stroke-width="0.5" text-anchor="start" textLength="234.0" lengthAdjust="spacingAndGlyphs">Prompt Construction</text>
<text x="2519.2" y="417.0" font-size="26" font-weight="700" fill="#161616" stroke="#161616" stroke-width="0.5" text-anchor="start" textLength="89.1" lengthAdjust="spacingAndGlyphs">[Query]</text>
<text x="2563.7" y="459.0" font-size="24" font-weight="700" fill="#161616" stroke="#161616" stroke-width="0.5" text-anchor="middle" textLength="13.1" lengthAdjust="spacingAndGlyphs">+</text>
<text x="2451.2" y="502.0" font-size="26" font-weight="700" fill="#161616" stroke="#161616" stroke-width="0.5" text-anchor="start" textLength="225.3" lengthAdjust="spacingAndGlyphs">[Reranked Context]</text>
<text x="2563.7" y="542.8" font-size="24" font-weight="700" fill="#161616" stroke="#161616" stroke-width="0.5" text-anchor="middle" textLength="13.1" lengthAdjust="spacingAndGlyphs">+</text>
<text x="2439.0" y="585.7" font-size="26" font-weight="700" fill="#161616" stroke="#161616" stroke-width="0.5" text-anchor="start" textLength="249.5" lengthAdjust="spacingAndGlyphs">[System Instructions]</text>
<text x="2474.4" y="720.3" font-size="25.5" font-weight="700" fill="#fff" stroke="#fff" stroke-width="0.5" text-anchor="start" textLength="178.3" lengthAdjust="spacingAndGlyphs">LLM Generation</text>
<text x="2450.2" y="1111.0" font-size="26.3" font-weight="700" fill="#fff" stroke="#fff" stroke-width="0.5" text-anchor="start" textLength="227.7" lengthAdjust="spacingAndGlyphs">Verified, Grounded</text>
<text x="2503.2" y="1139.8" font-size="26.3" font-weight="700" fill="#fff" stroke="#fff" stroke-width="0.5" text-anchor="start" textLength="119.4" lengthAdjust="spacingAndGlyphs">Response</text>
<text x="2470.7" y="1214.4" font-size="23.4" font-weight="700" fill="#161616" stroke="#161616" stroke-width="0.5" text-anchor="start" textLength="185.8" lengthAdjust="spacingAndGlyphs">High Faithfulness:</text>
<text x="2439.2" y="1238.6" font-size="23.2" font-weight="400" fill="#161616" stroke="#161616" stroke-width="0.6" text-anchor="start" textLength="248.7" lengthAdjust="spacingAndGlyphs">Answer is derived strictly</text>
<text x="2441.0" y="1262.8" font-size="23.2" font-weight="400" fill="#161616" stroke="#161616" stroke-width="0.6" text-anchor="start" textLength="246.5" lengthAdjust="spacingAndGlyphs">from the refined context.</text>
<text x="36.9" y="1280.1" font-size="23" font-weight="700" fill="#161616" stroke="#161616" stroke-width="0.5" text-anchor="start" textLength="386.8" lengthAdjust="spacingAndGlyphs">6.1 Why Parent-Child Indexing Works:</text>
<text x="35.9" y="1304.0" font-size="23" font-weight="400" fill="#161616" stroke="#161616" stroke-width="0.6" text-anchor="start" textLength="720.0" lengthAdjust="spacingAndGlyphs">Decoupling indexing from generation. We embed small sentences (Child)</text>
<text x="36.2" y="1328.2" font-size="23" font-weight="400" fill="#161616" stroke="#161616" stroke-width="0.6" text-anchor="start" textLength="721.4" lengthAdjust="spacingAndGlyphs">because their vector meaning is precise and focused. But we retrieve the</text>
<text x="35.9" y="1352.1" font-size="23" font-weight="400" fill="#161616" stroke="#161616" stroke-width="0.6" text-anchor="start" textLength="726.9" lengthAdjust="spacingAndGlyphs">Parent paragraph because the LLM needs surrounding context to reason.</text>
<text x="37.3" y="1376.0" font-size="23" font-weight="400" fill="#161616" stroke="#161616" stroke-width="0.6" text-anchor="start" textLength="583.6" lengthAdjust="spacingAndGlyphs">This solves the “Context Severance” problem of Naive RAG.</text>
<text x="36.9" y="1435.1" font-size="23" font-weight="700" fill="#161616" stroke="#161616" stroke-width="0.5" text-anchor="start" textLength="476.8" lengthAdjust="spacingAndGlyphs">6.4 Handling Ambiguity with Query Expansion:</text>
<text x="36.0" y="1459.9" font-size="23" font-weight="400" fill="#161616" stroke="#161616" stroke-width="0.6" text-anchor="start" textLength="747.5" lengthAdjust="spacingAndGlyphs">Users rarely ask perfect questions. By generating 3-5 variants of the query,</text>
<text x="37.7" y="1484.1" font-size="23" font-weight="400" fill="#161616" stroke="#161616" stroke-width="0.6" text-anchor="start" textLength="674.7" lengthAdjust="spacingAndGlyphs">we cast a wider net in the vector space, increasing the probability of</text>
<text x="36.2" y="1508.4" font-size="23" font-weight="400" fill="#161616" stroke="#161616" stroke-width="0.6" text-anchor="start" textLength="482.8" lengthAdjust="spacingAndGlyphs">intersecting with the relevant knowledge cluster.</text>
<text x="966.7" y="1378.9" font-size="23" font-weight="700" fill="#161616" stroke="#161616" stroke-width="0.5" text-anchor="start" textLength="400.6" lengthAdjust="spacingAndGlyphs">6.2 The Mathematics of Hybrid Search:</text>
<text x="967.4" y="1403.3" font-size="23" font-weight="400" fill="#161616" stroke="#161616" stroke-width="0.6" text-anchor="start" textLength="584.5" lengthAdjust="spacingAndGlyphs">Vectors fail at “Lexical Specificity” (e.g., distinguishing “Part</text>
<text x="967.5" y="1427.1" font-size="23" font-weight="400" fill="#161616" stroke="#161616" stroke-width="0.6" text-anchor="start" textLength="496.1" lengthAdjust="spacingAndGlyphs">A-12” from “Part A-13”). Keywords fail at “Semantic</text>
<text x="966.4" y="1451.5" font-size="23" font-weight="400" fill="#161616" stroke="#161616" stroke-width="0.6" text-anchor="start" textLength="583.2" lengthAdjust="spacingAndGlyphs">Generalization” (e.g., knowing that “Car” matches “Vehicle”).</text>
<text x="965.7" y="1475.8" font-size="23" font-weight="400" fill="#161616" stroke="#161616" stroke-width="0.6" text-anchor="start" textLength="609.3" lengthAdjust="spacingAndGlyphs">RRF mathematically fuses these two worldviews, ensuring we</text>
<text x="967.2" y="1499.4" font-size="23" font-weight="400" fill="#161616" stroke="#161616" stroke-width="0.6" text-anchor="start" textLength="497.5" lengthAdjust="spacingAndGlyphs">find specific part numbers *and general concepts.</text>
<text x="1771.7" y="1378.9" font-size="23" font-weight="700" fill="#161616" stroke="#161616" stroke-width="0.5" text-anchor="start" textLength="372.4" lengthAdjust="spacingAndGlyphs">6.3 The Compute Cost of Reranking:</text>
<text x="1770.7" y="1403.3" font-size="23" font-weight="400" fill="#161616" stroke="#161616" stroke-width="0.6" text-anchor="start" textLength="559.2" lengthAdjust="spacingAndGlyphs">Bi-Encoders (Vector Search) are fast because query and</text>
<text x="1771.6" y="1427.1" font-size="23" font-weight="400" fill="#161616" stroke="#161616" stroke-width="0.6" text-anchor="start" textLength="563.1" lengthAdjust="spacingAndGlyphs">document are processed separately. Cross-Encoders are</text>
<text x="1771.8" y="1451.5" font-size="23" font-weight="400" fill="#161616" stroke="#161616" stroke-width="0.6" text-anchor="start" textLength="605.4" lengthAdjust="spacingAndGlyphs">slow (O(N^2) complexity) but accurate because they process</text>
<text x="1772.2" y="1475.8" font-size="23" font-weight="400" fill="#161616" stroke="#161616" stroke-width="0.6" text-anchor="start" textLength="545.8" lengthAdjust="spacingAndGlyphs">them together. We use a “Two-Stage” approach (Vector</text>
<text x="1771.5" y="1499.4" font-size="23" font-weight="400" fill="#161616" stroke="#161616" stroke-width="0.6" text-anchor="start" textLength="606.9" lengthAdjust="spacingAndGlyphs">Search First, Rerank Second) to balance speed and accuracy.</text>
<text x="310.2" y="1075.6" font-size="14" font-weight="400" fill="#10201f" stroke="#10201f" stroke-width="0.6" text-anchor="start" textLength="156.3" lengthAdjust="spacingAndGlyphs">Logic-agant Segment lines</text>
<text x="1005.4" y="804.0" font-size="17.5" font-weight="700" fill="#161616" stroke="#161616" stroke-width="0.5" text-anchor="start" textLength="72.3" lengthAdjust="spacingAndGlyphs">Keyword</text>
<text x="1093.3" y="804.0" font-size="17.5" font-weight="400" fill="#10302e" stroke="#10302e" stroke-width="0.6" text-anchor="start" textLength="49.4" lengthAdjust="spacingAndGlyphs">Splade</text>
<text x="1036.6" y="765.0" font-size="10" font-weight="700" fill="#e0a033" stroke="#e0a033" stroke-width="0.5" text-anchor="middle" textLength="5.2" lengthAdjust="spacingAndGlyphs">x</text>
<text x="1048.2" y="765.0" font-size="10" font-weight="700" fill="#e0a033" stroke="#e0a033" stroke-width="0.5" text-anchor="middle" textLength="5.2" lengthAdjust="spacingAndGlyphs">y</text>
</svg>
</body></html>
